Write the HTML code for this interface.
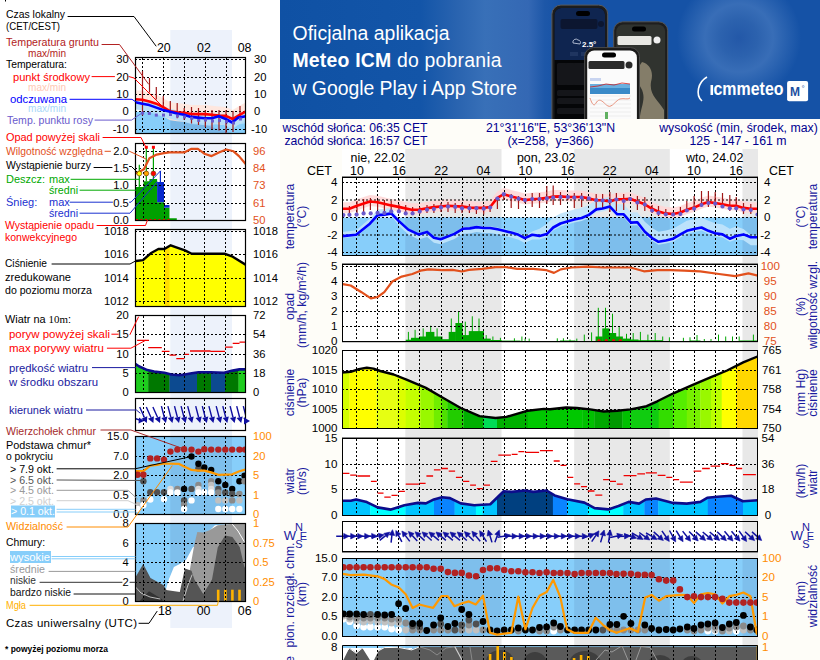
<!DOCTYPE html>
<html><head><meta charset="utf-8"><style>
html,body{margin:0;padding:0;background:#fefdf8;}
svg{display:block;font-family:"Liberation Sans", sans-serif;}
</style></head><body>
<svg width="820" height="660" viewBox="0 0 820 660">
<rect x="0" y="0" width="820" height="660" fill="#fefdf8" />
<rect x="0" y="0" width="280" height="660" fill="#ffffff" />
<line x1="5.5" y1="0" x2="5.5" y2="1.5" stroke="#000" stroke-width="1" />
<defs>
<linearGradient id="bn" gradientUnits="userSpaceOnUse" x1="280" y1="0" x2="820" y2="0">
 <stop offset="0" stop-color="#0f51a4"/>
 <stop offset="0.26" stop-color="#1355a8"/>
 <stop offset="0.33" stop-color="#2a64b0"/>
 <stop offset="0.38" stop-color="#3870b8"/>
 <stop offset="0.46" stop-color="#3468b4"/>
 <stop offset="0.49" stop-color="#1d57a8"/>
 <stop offset="0.52" stop-color="#1552a6"/>
 <stop offset="1" stop-color="#1552a6"/>
</linearGradient>
<radialGradient id="bspot" gradientUnits="userSpaceOnUse" cx="739" cy="38" r="62">
 <stop offset="0" stop-color="#2358a8" stop-opacity="1"/>
 <stop offset="0.3" stop-color="#2c62ae" stop-opacity="1"/>
 <stop offset="0.55" stop-color="#3a6fb8" stop-opacity="0.95"/>
 <stop offset="1" stop-color="#3a6fb8" stop-opacity="0"/>
</radialGradient>
</defs>
<rect x="280" y="0" width="540" height="119" fill="url(#bn)" />
<rect x="280" y="0" width="540" height="119" fill="url(#bspot)" />
<text x="292.5" y="40" font-size="19.4" fill="#fff" text-anchor="start" font-weight="normal" textLength="157" lengthAdjust="spacing">Oficjalna aplikacja</text>
<text x="292.5" y="67.4" font-size="19.4" fill="#fff" textLength="209" lengthAdjust="spacing"><tspan font-weight="bold">Meteo ICM</tspan> do pobrania</text>
<text x="292.5" y="94.9" font-size="19.4" fill="#fff" text-anchor="start" font-weight="normal" textLength="224.5" lengthAdjust="spacing">w Google Play i App Store</text>
<clipPath id="c_ban"><rect x="280" y="0" width="540" height="119"/></clipPath>
<g clip-path="url(#c_ban)">
<rect x="551.9" y="5.1" width="55.8" height="130" rx="9" fill="#1c1c1c" stroke="#5a5a5a" stroke-width="1"/>
<rect x="554.5" y="8" width="50.6" height="125" rx="7" fill="#050608"/>
<path d="M554.5,60V15a7,7 0 0 1 7,-7H598.1a7,7 0 0 1 7,7V60Z" fill="#0f2550"/>
<rect x="576" y="11" width="14" height="5" rx="2.5" fill="#000"/>
<rect x="560.5" y="19" width="37" height="10" rx="2" fill="#0c1630"/>
<circle cx="601" cy="24" r="3" fill="#0c1630"/>
<text x="582" y="47" font-size="8" fill="#fff" font-weight="bold">2.5°</text>
<path d="M573,43a3,3 0 0 1 5,-3a2.5,2.5 0 0 1 2,4z" fill="none" stroke="#cfd8ea" stroke-width="0.8"/>
<rect x="570" y="52" width="8" height="4" fill="#1f3560"/><rect x="581" y="52" width="8" height="4" fill="#1f3560"/>
<rect x="557" y="63" width="34" height="22" rx="1.5" fill="#15161a"/>
<rect x="557" y="90" width="34" height="6" rx="1.5" fill="#15161a"/>
<rect x="557" y="98" width="34" height="6" rx="1.5" fill="#15161a"/>
<rect x="557" y="108" width="34" height="6" rx="1.5" fill="#15161a"/>
<rect x="565" y="63" width="10" height="22" rx="1.5" fill="#15161a"/>
<rect x="613.7" y="21.8" width="54" height="120" rx="9" fill="#1e1e1e" stroke="#555" stroke-width="1"/>
<rect x="616.3" y="24.5" width="48.8" height="115" rx="7" fill="#30332f"/>
<path d="M642,62C650,64 654,72 651,82C649,95 658,100 664,110V125H640C638,110 648,100 641,88C636,80 637,68 642,62Z" fill="#9a9078" opacity="0.8"/>
<path d="M622,75C628,80 626,92 620,100" stroke="#6a6e68" stroke-width="2" fill="none"/>
<rect x="632" y="26.5" width="14" height="5" rx="2.5" fill="#000"/>
<rect x="617.5" y="36" width="34" height="9" rx="1.5" fill="#e8e8e4"/>
<circle cx="657" cy="40" r="3.5" fill="#f0f0f0"/>
<rect x="584.6" y="47.6" width="54.9" height="90" rx="9" fill="#1a1a1a" stroke="#4a4a4a" stroke-width="1"/>
<rect x="587.2" y="50.5" width="49.7" height="85" rx="7" fill="#fbfbfb"/>
<rect x="602" y="52.5" width="14" height="5" rx="2.5" fill="#000"/>
<rect x="588.5" y="61" width="36" height="8" rx="1.5" fill="#2a2a2a"/>
<circle cx="629" cy="65" r="3.5" fill="#2a2a2a"/>
<rect x="590" y="78" width="11" height="3" fill="#c8d4f0"/>
<rect x="590" y="84" width="40" height="10" fill="#3a8ac8"/>
<rect x="590" y="84" width="40" height="4" fill="#6ab0e0"/>
<path d="M590,87L598,86L606,84L614,85L622,83L630,84" stroke="#d02020" stroke-width="0.8" fill="none"/>
<path d="M590,98C592,104 594,107 596,103C600,96 604,104 608,106C612,108 616,100 620,99C624,98 628,100 630,98" stroke="#e06040" stroke-width="0.7" fill="none"/>
<path d="M590,96H631M590,100H631M590,104H631M590,108H631M590,112H631M590,116H631" stroke="#dcdcdc" stroke-width="0.4"/>
<rect x="605" y="112" width="3" height="7" fill="#60b060"/>
</g>
<path d="M707,77C698,82 695,95 702,101" stroke="#fff" stroke-width="1.6" fill="none"/>
<rect x="710.5" y="85" width="2.6" height="10" fill="#fff"/>
<text x="713.5" y="95.3" font-size="18" font-weight="bold" fill="#fff" textLength="70" lengthAdjust="spacingAndGlyphs">cmmeteo</text>
<rect x="787.1" y="81" width="21" height="20.2" rx="2" fill="#fff"/>
<text x="790" y="96" font-size="12" font-weight="bold" fill="#1d4fa0">M</text>
<text x="801.5" y="91" font-size="8" fill="#1d4fa0">°</text>
<text x="282.5" y="132" font-size="12.2" fill="#000090" text-anchor="start" font-weight="normal" >wschód słońca: 06:35 CET</text>
<text x="284.5" y="144.6" font-size="12.2" fill="#000090" text-anchor="start" font-weight="normal" >zachód słońca: 16:57 CET</text>
<text x="550.5" y="132" font-size="12.3" fill="#000090" text-anchor="middle" font-weight="normal" >21°31'16"E, 53°36'13"N</text>
<text x="550.5" y="144.6" font-size="12.3" fill="#000090" text-anchor="middle" font-weight="normal" >(x=258,&#160; y=366)</text>
<text x="738.5" y="132" font-size="12.3" fill="#000090" text-anchor="middle" font-weight="normal" >wysokość (min, środek, max)</text>
<text x="738" y="144.6" font-size="12.3" fill="#000090" text-anchor="middle" font-weight="normal" >125 - 147 - 161 m</text>
<rect x="342" y="149" width="416" height="511" fill="#ffffff" />
<rect x="405.3" y="149" width="96.19999999999999" height="511" fill="#e8e8e8" />
<rect x="574.2" y="149" width="95.59999999999991" height="511" fill="#e8e8e8" />
<rect x="742.5" y="149" width="15.5" height="511" fill="#e8e8e8" />
<defs>
<clipPath id="c_temp"><rect x="342" y="177" width="416" height="79"/></clipPath>
<clipPath id="c_prec"><rect x="342" y="264" width="416" height="78"/></clipPath>
<clipPath id="c_pres"><rect x="342" y="350" width="416" height="79"/></clipPath>
<clipPath id="c_wind"><rect x="342" y="438" width="416" height="78"/></clipPath>
<clipPath id="c_wdir"><rect x="342" y="521" width="416" height="31"/></clipPath>
<clipPath id="c_cbase"><rect x="342" y="558" width="416" height="79"/></clipPath>
<clipPath id="c_ccov"><rect x="342" y="645" width="416" height="76"/></clipPath>
</defs>
<rect x="342" y="177" width="416" height="79" fill="#fff" />
<rect x="405.3" y="177" width="96.19999999999999" height="79" fill="#e8e8e8" />
<rect x="574.2" y="177" width="95.59999999999991" height="79" fill="#e8e8e8" />
<rect x="742.5" y="177" width="15.5" height="79" fill="#e8e8e8" />
<g clip-path="url(#c_temp)">
<rect x="342" y="217.5" width="416" height="38.5" fill="#87cefa" />
<rect x="405.3" y="217.5" width="96.19999999999999" height="38.5" fill="#7dbeec" />
<rect x="574.2" y="217.5" width="95.59999999999991" height="38.5" fill="#7dbeec" />
<rect x="742.5" y="217.5" width="15.5" height="38.5" fill="#7dbeec" />
<polygon points="342.6,202.3 349.4,202.3 357.0,199.2 369.9,195.0 377.6,195.8 391.2,198.9 399.8,200.6 411.7,203.2 418.5,203.2 432.2,200.9 447.6,199.2 462.9,200.1 470.0,201.1 476.4,201.4 483.7,201.4 490.1,200.5 497.4,191.4 503.8,187.7 511.2,189.9 518.5,191.7 524.9,193.6 532.2,192.8 539.5,192.3 546.8,191.4 553.2,190.1 560.5,189.9 567.9,190.5 574.3,190.5 581.6,190.5 588.9,191.9 596.2,193.7 602.6,193.7 610.0,195.0 616.4,192.8 623.7,192.8 630.1,192.3 637.4,195.0 644.8,197.8 652.1,202.3 658.5,205.1 665.8,206.9 673.1,207.5 680.4,206.0 686.8,203.3 694.1,201.1 701.5,197.8 708.4,195.6 715.2,196.5 722.5,197.8 729.8,199.2 736.2,199.2 743.5,201.4 750.8,202.3 758.0,202.3 758.0,213.3 750.8,213.3 743.5,212.4 736.2,210.2 729.8,210.2 722.5,208.8 715.2,207.5 708.4,206.6 701.5,208.8 694.1,212.1 686.8,214.3 680.4,217.0 673.1,218.5 665.8,217.9 658.5,216.1 652.1,213.3 644.8,208.8 637.4,206.0 630.1,203.3 623.7,203.8 616.4,203.8 610.0,206.0 602.6,204.7 596.2,204.7 588.9,202.9 581.6,201.5 574.3,201.5 567.9,201.5 560.5,200.9 553.2,201.1 546.8,202.4 539.5,203.3 532.2,203.8 524.9,204.6 518.5,202.7 511.2,200.9 503.8,198.7 497.4,202.4 490.1,211.5 483.7,212.4 476.4,212.4 470.0,212.1 462.9,211.1 447.6,210.2 432.2,211.9 418.5,214.2 411.7,214.2 399.8,211.6 391.2,209.9 377.6,206.8 369.9,206.0 357.0,210.2 349.4,213.3 342.6,213.3" fill="#ffd6d6" opacity="0.85"/>
<polygon points="342.6,232.0 356.2,230.2 369.9,218.5 377.6,209.6 384.4,208.8 391.2,208.0 398.9,219.5 408.3,228.5 418.5,233.3 427.1,230.7 433.9,236.5 440.7,237.9 454.4,232.5 462.9,227.3 469.8,226.9 476.6,225.5 483.7,226.4 490.1,226.3 497.4,227.6 503.8,229.0 511.2,230.7 518.5,232.9 524.9,236.1 532.2,231.6 539.5,228.8 546.8,224.1 553.2,217.5 560.5,213.5 567.9,211.3 574.3,209.4 581.6,208.0 588.9,204.9 596.2,199.4 602.6,198.5 609.9,196.6 617.3,204.3 623.7,204.3 631.0,212.6 637.4,212.2 644.8,221.7 652.1,228.1 658.5,231.8 665.8,230.5 673.1,228.7 680.4,224.4 686.8,220.8 694.1,219.0 701.5,217.5 708.4,220.8 715.2,223.2 722.5,224.4 729.8,228.7 736.2,226.6 743.5,228.9 750.8,235.2 758.0,235.2 758.0,245.2 750.8,245.2 743.5,240.2 736.2,239.4 729.8,241.7 722.5,237.4 715.2,236.2 708.4,233.8 701.5,230.5 694.1,232.0 686.8,233.8 680.4,237.4 673.1,241.7 665.8,243.5 658.5,244.8 652.1,241.1 644.8,234.7 637.4,225.2 631.0,225.6 623.7,217.3 617.3,217.3 609.9,209.6 602.6,211.5 596.2,212.4 588.9,217.9 581.6,221.0 574.3,222.4 567.9,224.3 560.5,226.5 553.2,230.5 546.8,237.1 539.5,239.6 532.2,239.5 524.9,243.1 518.5,239.8 511.2,237.6 503.8,235.8 497.4,234.3 490.1,233.0 483.7,233.0 476.6,232.1 469.8,233.4 462.9,233.8 454.4,238.9 440.7,244.2 433.9,242.8 427.1,236.9 418.5,239.4 408.3,234.6 398.9,225.8 391.2,215.8 384.4,216.6 377.6,217.1 369.9,225.7 356.2,236.8 342.6,238.1" fill="#c0e4fb" opacity="0.92"/>
</g>
<path d="M342,182.5H757 M342,200H757 M342,217.5H757 M342,235H757 M342,252.5H757 M356.5,178V255 M377.5,178V255 M398.5,178V255 M419.5,178V255 M441.5,178V255 M462.5,178V255 M483.5,178V255 M504.5,178V255 M525.5,178V255 M546.5,178V255 M567.5,178V255 M588.5,178V255 M609.5,178V255 M630.5,178V255 M651.5,178V255 M673.5,178V255 M694.5,178V255 M715.5,178V255 M736.5,178V255" stroke="#000" stroke-width="1" stroke-dasharray="2,2" fill="none"/>
<g clip-path="url(#c_temp)">
<path d="M349.4,206V214 M357.0,201V214 M363.6,199V212 M370.4,198V210 M377.6,200V210 M384.4,200V211 M391.2,201V212 M398.9,204V213 M405.7,205V214 M412.6,207V214 M419.7,207V214 M427.0,205V213 M433.9,204V213 M441.0,203V212 M448.0,202V212 M455.2,203V213 M462.0,203V213 M469.4,204V213 M476.4,206V214 M483.7,205V214.5 M490.1,205V212 M497.4,197V209 M503.8,194V200 M511.2,194V208 M518.5,196V209 M524.9,198V203 M532.2,193V207 M539.5,193V208 M546.8,186V204 M553.2,185.5V205 M560.5,192V205 M567.9,196V200 M574.3,193V208 M581.6,193V207 M588.9,197V201 M596.2,194V211 M602.6,194V209 M609.9,192V212 M616.4,193V211 M623.7,194V210 M630.1,197V201 M637.4,196V210 M644.8,197V211 M652.1,205V213 M658.5,206V216 M665.8,209V216 M673.1,212V216 M680.4,207V216 M686.8,201V212 M694.1,196V210 M701.5,191V207 M708.4,191V207 M715.2,192V206 M722.5,193V208 M729.8,195V211 M736.2,197V210 M743.5,203V214 M750.8,204V214" stroke="#a01818" stroke-width="1.2" fill="none"/>
<polyline points="342.6,208.8 349.4,208.8 357.0,205.7 369.9,201.5 377.6,202.3 391.2,205.4 399.8,207.1 411.7,209.7 418.5,209.7 432.2,207.4 447.6,205.7 462.9,206.6 470.0,207.6 476.4,207.9 483.7,207.9 490.1,207.0 497.4,197.9 503.8,194.2 511.2,196.4 518.5,198.2 524.9,200.1 532.2,199.3 539.5,198.8 546.8,197.9 553.2,196.6 560.5,196.4 567.9,197.0 574.3,197.0 581.6,197.0 588.9,198.4 596.2,200.2 602.6,200.2 610.0,201.5 616.4,199.3 623.7,199.3 630.1,198.8 637.4,201.5 644.8,204.3 652.1,208.8 658.5,211.6 665.8,213.4 673.1,214.0 680.4,212.5 686.8,209.8 694.1,207.6 701.5,204.3 708.4,202.1 715.2,203.0 722.5,204.3 729.8,205.7 736.2,205.7 743.5,207.9 750.8,208.8 758.0,208.8" fill="none" stroke="#ff0000" stroke-width="2.6" stroke-linejoin="round" stroke-linecap="round" />
<polyline points="342.6,236.1 356.2,234.8 369.9,223.7 377.6,215.1 384.4,214.6 391.2,213.4 398.9,221.1 408.3,229.6 418.5,234.4 427.1,231.9 433.9,237.8 440.7,239.2 454.4,233.9 462.9,228.8 469.8,228.4 476.6,227.1 483.7,228.0 490.1,228.0 497.4,229.3 503.8,230.8 511.2,232.6 518.5,234.8 524.9,238.1 532.2,234.8 539.5,235.9 546.8,234.1 553.2,227.5 560.5,223.5 567.9,221.3 574.3,219.4 581.6,218.0 588.9,214.9 596.2,209.4 602.6,208.5 609.9,206.6 617.3,214.3 623.7,214.3 631.0,222.6 637.4,222.2 644.8,231.7 652.1,238.1 658.5,241.8 665.8,240.5 673.1,238.7 680.4,234.4 686.8,230.8 694.1,229.0 701.5,227.5 708.4,230.8 715.2,233.2 722.5,234.4 729.8,238.7 736.2,236.0 743.5,234.4 750.8,237.2 758.0,237.2" fill="none" stroke="#0000ff" stroke-width="2.6" stroke-linejoin="round" stroke-linecap="round" />
<g fill="#6a5acd"><circle cx="343.4" cy="215.1" r="2.1"/><circle cx="349.4" cy="214.8" r="2.1"/><circle cx="356.6" cy="214.6" r="2.1"/><circle cx="363.6" cy="213.4" r="2.1"/><circle cx="370.7" cy="213.4" r="2.1"/><circle cx="377.6" cy="212.9" r="2.1"/><circle cx="384.4" cy="212.9" r="2.1"/><circle cx="391.2" cy="211.4" r="2.1"/><circle cx="398.9" cy="211.4" r="2.1"/><circle cx="405.7" cy="213.4" r="2.1"/><circle cx="412.6" cy="213.4" r="2.1"/><circle cx="419.7" cy="211.4" r="2.1"/><circle cx="427" cy="209.7" r="2.1"/><circle cx="433.9" cy="209.1" r="2.1"/><circle cx="441" cy="207.4" r="2.1"/><circle cx="448" cy="206.6" r="2.1"/><circle cx="455.2" cy="206.9" r="2.1"/><circle cx="462" cy="208.3" r="2.1"/><circle cx="469.4" cy="208.3" r="2.1"/><circle cx="476.4" cy="208.2" r="2.1"/><circle cx="483.7" cy="208.7" r="2.1"/><circle cx="490.1" cy="207.5" r="2.1"/><circle cx="497.4" cy="198.5" r="2.1"/><circle cx="503.8" cy="194.2" r="2.1"/><circle cx="511.2" cy="196.6" r="2.1"/><circle cx="518.5" cy="198.7" r="2.1"/><circle cx="524.9" cy="200.1" r="2.1"/><circle cx="532.2" cy="199" r="2.1"/><circle cx="539.5" cy="199" r="2.1"/><circle cx="546.8" cy="198.4" r="2.1"/><circle cx="553.2" cy="197.5" r="2.1"/><circle cx="560.5" cy="197" r="2.1"/><circle cx="567.9" cy="197" r="2.1"/><circle cx="574.3" cy="197.5" r="2.1"/><circle cx="581.6" cy="197.5" r="2.1"/><circle cx="588.9" cy="198.4" r="2.1"/><circle cx="596.2" cy="200.2" r="2.1"/><circle cx="602.6" cy="200.5" r="2.1"/><circle cx="609.9" cy="201.2" r="2.1"/><circle cx="616.4" cy="199.5" r="2.1"/><circle cx="623.7" cy="201" r="2.1"/><circle cx="630.1" cy="199" r="2.1"/><circle cx="637.4" cy="202.5" r="2.1"/><circle cx="644.8" cy="204.5" r="2.1"/><circle cx="652.1" cy="210.5" r="2.1"/><circle cx="658.5" cy="213" r="2.1"/><circle cx="665.8" cy="214.3" r="2.1"/><circle cx="673.1" cy="214.5" r="2.1"/><circle cx="680.4" cy="214" r="2.1"/><circle cx="686.8" cy="210.5" r="2.1"/><circle cx="694.1" cy="208.6" r="2.1"/><circle cx="701.5" cy="205" r="2.1"/><circle cx="708.4" cy="203" r="2.1"/><circle cx="715.2" cy="203.6" r="2.1"/><circle cx="722.5" cy="206.5" r="2.1"/><circle cx="729.8" cy="208.3" r="2.1"/><circle cx="736.2" cy="208.3" r="2.1"/><circle cx="743.5" cy="209.5" r="2.1"/><circle cx="750.8" cy="210" r="2.1"/><circle cx="757.5" cy="214.5" r="2.1"/></g>
</g>
<line x1="342" y1="176.5" x2="758" y2="176.5" stroke="#888" stroke-width="1" />
<rect x="342.5" y="177.5" width="415" height="78" fill="none" stroke="#000" stroke-width="1"/>
<text x="377.8" y="162.3" font-size="12.4" fill="#000" text-anchor="middle" font-weight="normal" >nie, 22.02</text>
<text x="546.2" y="162.3" font-size="12.4" fill="#000" text-anchor="middle" font-weight="normal" >pon, 23.02</text>
<text x="714.7" y="162.3" font-size="12.4" fill="#000" text-anchor="middle" font-weight="normal" >wto, 24.02</text>
<text x="357.0" y="174.6" font-size="12.4" fill="#000" text-anchor="middle" font-weight="normal" >10</text>
<text x="399.1" y="174.6" font-size="12.4" fill="#000" text-anchor="middle" font-weight="normal" >16</text>
<text x="441.2" y="174.6" font-size="12.4" fill="#000" text-anchor="middle" font-weight="normal" >22</text>
<text x="483.4" y="174.6" font-size="12.4" fill="#000" text-anchor="middle" font-weight="normal" >04</text>
<text x="525.5" y="174.6" font-size="12.4" fill="#000" text-anchor="middle" font-weight="normal" >10</text>
<text x="567.6" y="174.6" font-size="12.4" fill="#000" text-anchor="middle" font-weight="normal" >16</text>
<text x="609.7" y="174.6" font-size="12.4" fill="#000" text-anchor="middle" font-weight="normal" >22</text>
<text x="651.8" y="174.6" font-size="12.4" fill="#000" text-anchor="middle" font-weight="normal" >04</text>
<text x="694.0" y="174.6" font-size="12.4" fill="#000" text-anchor="middle" font-weight="normal" >10</text>
<text x="736.1" y="174.6" font-size="12.4" fill="#000" text-anchor="middle" font-weight="normal" >16</text>
<text x="319.5" y="174.6" font-size="12.4" fill="#000" text-anchor="middle" font-weight="normal" >CET</text>
<text x="781.5" y="174.6" font-size="12.4" fill="#000" text-anchor="middle" font-weight="normal" >CET</text>
<text x="337.5" y="186.1" font-size="11.6" fill="#000" text-anchor="end" font-weight="normal" >4</text>
<text x="770.5" y="186.1" font-size="11.6" fill="#000" text-anchor="end" font-weight="normal" >4</text>
<text x="337.5" y="203.6" font-size="11.6" fill="#000" text-anchor="end" font-weight="normal" >2</text>
<text x="770.5" y="203.6" font-size="11.6" fill="#000" text-anchor="end" font-weight="normal" >2</text>
<text x="337.5" y="221.1" font-size="11.6" fill="#000" text-anchor="end" font-weight="normal" >0</text>
<text x="770.5" y="221.1" font-size="11.6" fill="#000" text-anchor="end" font-weight="normal" >0</text>
<text x="337.5" y="238.6" font-size="11.6" fill="#000" text-anchor="end" font-weight="normal" >-2</text>
<text x="770.5" y="238.6" font-size="11.6" fill="#000" text-anchor="end" font-weight="normal" >-2</text>
<text x="337.5" y="256.1" font-size="11.6" fill="#000" text-anchor="end" font-weight="normal" >-4</text>
<text x="770.5" y="256.1" font-size="11.6" fill="#000" text-anchor="end" font-weight="normal" >-4</text>
<text x="337.5" y="270.1" font-size="11.6" fill="#000" text-anchor="end" font-weight="normal" >5</text>
<text x="770.3" y="270.1" font-size="11.6" fill="#e2501a" text-anchor="middle" font-weight="normal" >100</text>
<text x="337.5" y="285.1" font-size="11.6" fill="#000" text-anchor="end" font-weight="normal" >4</text>
<text x="770.3" y="285.1" font-size="11.6" fill="#e2501a" text-anchor="middle" font-weight="normal" >95</text>
<text x="337.5" y="300.1" font-size="11.6" fill="#000" text-anchor="end" font-weight="normal" >3</text>
<text x="770.3" y="300.1" font-size="11.6" fill="#e2501a" text-anchor="middle" font-weight="normal" >90</text>
<text x="337.5" y="315.1" font-size="11.6" fill="#000" text-anchor="end" font-weight="normal" >2</text>
<text x="770.3" y="315.1" font-size="11.6" fill="#e2501a" text-anchor="middle" font-weight="normal" >85</text>
<text x="337.5" y="330.1" font-size="11.6" fill="#000" text-anchor="end" font-weight="normal" >1</text>
<text x="770.3" y="330.1" font-size="11.6" fill="#e2501a" text-anchor="middle" font-weight="normal" >80</text>
<text x="337.5" y="345.1" font-size="11.6" fill="#000" text-anchor="end" font-weight="normal" >0</text>
<text x="770.3" y="345.1" font-size="11.6" fill="#e2501a" text-anchor="middle" font-weight="normal" >75</text>
<text x="337.5" y="354.1" font-size="11.6" fill="#000" text-anchor="end" font-weight="normal" >1020</text>
<text x="762" y="354.1" font-size="11.6" fill="#000" text-anchor="start" font-weight="normal" >765</text>
<text x="337.5" y="374.1" font-size="11.6" fill="#000" text-anchor="end" font-weight="normal" >1015</text>
<text x="762" y="374.1" font-size="11.6" fill="#000" text-anchor="start" font-weight="normal" >761</text>
<text x="337.5" y="393.1" font-size="11.6" fill="#000" text-anchor="end" font-weight="normal" >1010</text>
<text x="762" y="393.1" font-size="11.6" fill="#000" text-anchor="start" font-weight="normal" >758</text>
<text x="337.5" y="413.1" font-size="11.6" fill="#000" text-anchor="end" font-weight="normal" >1005</text>
<text x="762" y="413.1" font-size="11.6" fill="#000" text-anchor="start" font-weight="normal" >754</text>
<text x="337.5" y="432.1" font-size="11.6" fill="#000" text-anchor="end" font-weight="normal" >1000</text>
<text x="762" y="432.1" font-size="11.6" fill="#000" text-anchor="start" font-weight="normal" >750</text>
<text x="337.5" y="442.1" font-size="11.6" fill="#000" text-anchor="end" font-weight="normal" >15</text>
<text x="768" y="442.1" font-size="11.6" fill="#000" text-anchor="middle" font-weight="normal" >54</text>
<text x="337.5" y="468.1" font-size="11.6" fill="#000" text-anchor="end" font-weight="normal" >10</text>
<text x="768" y="468.1" font-size="11.6" fill="#000" text-anchor="middle" font-weight="normal" >36</text>
<text x="337.5" y="493.1" font-size="11.6" fill="#000" text-anchor="end" font-weight="normal" >5</text>
<text x="768" y="493.1" font-size="11.6" fill="#000" text-anchor="middle" font-weight="normal" >18</text>
<text x="337.5" y="519.1" font-size="11.6" fill="#000" text-anchor="end" font-weight="normal" >0</text>
<text x="768" y="519.1" font-size="11.6" fill="#000" text-anchor="middle" font-weight="normal" >0</text>
<text x="337.5" y="562.1" font-size="11.6" fill="#000" text-anchor="end" font-weight="normal" >15.0</text>
<text x="762" y="562.1" font-size="11.6" fill="#ff8c00" text-anchor="start" font-weight="normal" >100</text>
<text x="337.5" y="581.1" font-size="11.6" fill="#000" text-anchor="end" font-weight="normal" >7.0</text>
<text x="762" y="581.1" font-size="11.6" fill="#ff8c00" text-anchor="start" font-weight="normal" >20</text>
<text x="337.5" y="601.1" font-size="11.6" fill="#000" text-anchor="end" font-weight="normal" >2.0</text>
<text x="762" y="601.1" font-size="11.6" fill="#ff8c00" text-anchor="start" font-weight="normal" >5</text>
<text x="337.5" y="620.1" font-size="11.6" fill="#000" text-anchor="end" font-weight="normal" >0.5</text>
<text x="762" y="620.1" font-size="11.6" fill="#ff8c00" text-anchor="start" font-weight="normal" >1</text>
<text x="337.5" y="640.1" font-size="11.6" fill="#000" text-anchor="end" font-weight="normal" >0.0</text>
<text x="762" y="640.1" font-size="11.6" fill="#ff8c00" text-anchor="start" font-weight="normal" >0</text>
<text x="337.5" y="650.6" font-size="11.6" fill="#000" text-anchor="end" font-weight="normal" >8</text>
<text x="762" y="650.6" font-size="11.6" fill="#ff8c00" text-anchor="start" font-weight="normal" >1</text>
<text x="0" y="0" font-size="12.2" fill="#1a1aa0" text-anchor="middle" transform="translate(293.5,216.5) rotate(-90)">temperatura</text>
<text x="0" y="0" font-size="12.2" fill="#1a1aa0" text-anchor="middle" transform="translate(305.5,216.5) rotate(-90)">(°C)</text>
<text x="0" y="0" font-size="12.2" fill="#1a1aa0" text-anchor="middle" transform="translate(293.5,306.5) rotate(-90)">opad</text>
<text x="0" y="0" font-size="12.2" fill="#1a1aa0" text-anchor="middle" transform="translate(305.5,305) rotate(-90)">(mm/h, kg/m²/h)</text>
<text x="0" y="0" font-size="12.2" fill="#1a1aa0" text-anchor="middle" transform="translate(293.5,392.5) rotate(-90)">ciśnienie</text>
<text x="0" y="0" font-size="12.2" fill="#1a1aa0" text-anchor="middle" transform="translate(305.5,392.5) rotate(-90)">(hPa)</text>
<text x="0" y="0" font-size="12.2" fill="#1a1aa0" text-anchor="middle" transform="translate(293.5,481) rotate(-90)">wiatr</text>
<text x="0" y="0" font-size="12.2" fill="#1a1aa0" text-anchor="middle" transform="translate(305.5,481) rotate(-90)">(m/s)</text>
<text x="0" y="0" font-size="12.2" fill="#1a1aa0" text-anchor="middle" transform="translate(293.5,595) rotate(-90)">pion. rozciągł. chm.</text>
<text x="0" y="0" font-size="12.2" fill="#1a1aa0" text-anchor="middle" transform="translate(305.5,594) rotate(-90)">(km)</text>
<text x="0" y="0" font-size="12.2" fill="#1a1aa0" text-anchor="middle" transform="translate(293.5,694) rotate(-90)">zachmurzenie</text>
<text x="0" y="0" font-size="12.2" fill="#1a1aa0" text-anchor="middle" transform="translate(804.5,216.5) rotate(-90)">(°C)</text>
<text x="0" y="0" font-size="12.2" fill="#1a1aa0" text-anchor="middle" transform="translate(816.5,216.5) rotate(-90)">temperatura</text>
<text x="0" y="0" font-size="12.2" fill="#1a1aa0" text-anchor="middle" transform="translate(804.5,306.5) rotate(-90)">(%)</text>
<text x="0" y="0" font-size="12.2" fill="#1a1aa0" text-anchor="middle" transform="translate(816.5,305) rotate(-90)">wilgotność wzgl.</text>
<text x="0" y="0" font-size="12.2" fill="#1a1aa0" text-anchor="middle" transform="translate(804.5,392.5) rotate(-90)">(mm Hg)</text>
<text x="0" y="0" font-size="12.2" fill="#1a1aa0" text-anchor="middle" transform="translate(816.5,393) rotate(-90)">ciśnienie</text>
<text x="0" y="0" font-size="12.2" fill="#1a1aa0" text-anchor="middle" transform="translate(804.5,481) rotate(-90)">(km/h)</text>
<text x="0" y="0" font-size="12.2" fill="#1a1aa0" text-anchor="middle" transform="translate(816.5,482.5) rotate(-90)">wiatr</text>
<text x="0" y="0" font-size="12.2" fill="#1a1aa0" text-anchor="middle" transform="translate(804.5,593) rotate(-90)">(km)</text>
<text x="0" y="0" font-size="12.2" fill="#1a1aa0" text-anchor="middle" transform="translate(816.5,596) rotate(-90)">widzialność</text>
<text x="290" y="539.5" font-size="13" fill="#1a1aa0" text-anchor="middle" font-weight="normal" >W</text>
<text x="299" y="531" font-size="11" fill="#1a1aa0" text-anchor="middle" font-weight="normal" >N</text>
<text x="303.5" y="539.5" font-size="11" fill="#1a1aa0" text-anchor="middle" font-weight="normal" >E</text>
<text x="299" y="547.5" font-size="11" fill="#1a1aa0" text-anchor="middle" font-weight="normal" >S</text>
<text x="797" y="539.5" font-size="13" fill="#1a1aa0" text-anchor="middle" font-weight="normal" >W</text>
<text x="806" y="531" font-size="11" fill="#1a1aa0" text-anchor="middle" font-weight="normal" >N</text>
<text x="810.5" y="539.5" font-size="11" fill="#1a1aa0" text-anchor="middle" font-weight="normal" >E</text>
<text x="806" y="547.5" font-size="11" fill="#1a1aa0" text-anchor="middle" font-weight="normal" >S</text>
<rect x="342" y="264" width="416" height="78" fill="#fff" />
<rect x="405.3" y="264" width="96.19999999999999" height="78" fill="#e8e8e8" />
<rect x="574.2" y="264" width="95.59999999999991" height="78" fill="#e8e8e8" />
<rect x="742.5" y="264" width="15.5" height="78" fill="#e8e8e8" />
<g clip-path="url(#c_prec)">
<rect x="405.7" y="339.7" width="5.800000000000011" height="1.3000000000000114" fill="#00a800" />
<rect x="411" y="337.8" width="8.5" height="3.1999999999999886" fill="#00a800" />
<rect x="419" y="336.5" width="7.399999999999977" height="4.5" fill="#00a800" />
<rect x="425.9" y="331.9" width="8.5" height="9.100000000000023" fill="#00a800" />
<rect x="433.9" y="336.5" width="8.600000000000023" height="4.5" fill="#00a800" />
<rect x="442" y="339.2" width="7.199999999999989" height="1.8000000000000114" fill="#00a800" />
<rect x="448.7" y="331.9" width="7.199999999999989" height="9.100000000000023" fill="#00a800" />
<rect x="455.4" y="323" width="7.2000000000000455" height="18" fill="#00a800" />
<rect x="462.1" y="335.1" width="7.199999999999989" height="5.899999999999977" fill="#00a800" />
<rect x="468.8" y="331.1" width="15.199999999999989" height="9.899999999999977" fill="#00a800" />
<rect x="483.5" y="338.6" width="7.300000000000011" height="2.3999999999999773" fill="#00a800" />
<rect x="490.3" y="340" width="11.199999999999989" height="1" fill="#00a800" />
<rect x="595.6" y="336.5" width="7.199999999999932" height="4.5" fill="#00a800" />
<rect x="602.3" y="328.4" width="7.2000000000000455" height="12.600000000000023" fill="#00a800" />
<rect x="609" y="333" width="7.2000000000000455" height="8" fill="#00a800" />
<rect x="615.7" y="336.5" width="7.199999999999932" height="4.5" fill="#00a800" />
<rect x="622.4" y="338.6" width="8.600000000000023" height="2.3999999999999773" fill="#00a800" />
<rect x="630.5" y="339.5" width="8.0" height="1.5" fill="#00a800" />
<rect x="638" y="340.2" width="24.5" height="0.8000000000000114" fill="#00a800" />
<rect x="500" y="340.6" width="20.5" height="0.39999999999997726" fill="#00a800" />
<rect x="560" y="340.5" width="15.5" height="0.5" fill="#00a800" />
<rect x="690" y="340.5" width="10.5" height="0.5" fill="#00a800" />
<rect x="740" y="340.5" width="17.5" height="0.5" fill="#00a800" />
<path d="M408.4,331.9V341 M415.1,329.8V341 M423.2,328.4V341 M430.7,325.7V341 M437.1,328.4V341 M451.3,318.5V341 M458.6,311.5V341 M465.3,321.7V341 M472.3,316.3V341 M479.0,318.5V341 M486.2,335.1V341 M492.9,336.5V341 M500.4,337.8V341 M514.4,338.3V341 M521.9,336.5V341 M525.1,338.6V341 M529.2,338.6V341 M557.3,338.3V341 M563.4,338.3V341 M570.0,339.5V341 M576.8,338.6V341 M584.3,334.6V341 M591.6,332.4V341 M598.3,307.8V341 M605.5,307.8V341 M612.5,313.7V341 M619.2,327.1V341 M626.5,333.8V341 M633.2,333V341 M640.4,331.9V341 M647.9,334.6V341 M655.2,333V341 M662.7,336.5V341 M669.4,337.3V341 M683.4,337.8V341 M690.0,337.3V341 M697.0,335V341 M704.3,339V341 M711.0,339V341 M718.5,334.6V341 M725.7,336.5V341 M732.5,336.5V341 M739.2,336.5V341 M753.4,334.6V341" stroke="#00a800" stroke-width="1" fill="none"/>
</g>
<path d="M342,266.5H757 M342,281.5H757 M342,296.5H757 M342,311.5H757 M342,326.5H757 M356.5,265V341 M377.5,265V341 M398.5,265V341 M419.5,265V341 M441.5,265V341 M462.5,265V341 M483.5,265V341 M504.5,265V341 M525.5,265V341 M546.5,265V341 M567.5,265V341 M588.5,265V341 M609.5,265V341 M630.5,265V341 M651.5,265V341 M673.5,265V341 M694.5,265V341 M715.5,265V341 M736.5,265V341" stroke="#000" stroke-width="1" stroke-dasharray="2,2" fill="none"/>
<g clip-path="url(#c_prec)">
<polyline points="342.7,284.1 350.7,285.5 361.5,292.2 370.9,298.4 377.6,297.0 384.3,292.2 392.3,281.5 401.7,276.6 412.4,274.0 420.5,270.7 428.5,269.4 442.0,270.2 452.7,269.9 462.1,271.5 468.8,269.9 482.2,268.9 495.6,267.2 506.4,267.2 517.1,268.9 533.2,268.9 546.6,270.2 554.0,272.9 560.7,269.4 571.5,267.5 587.6,266.7 603.7,267.5 630.5,267.5 643.9,271.3 657.3,270.2 670.7,270.2 684.1,270.7 700.2,271.3 719.0,274.0 735.1,276.1 748.5,273.4 758.0,275.6" fill="none" stroke="#e2501c" stroke-width="2.2" stroke-linejoin="round" stroke-linecap="round" />
<g fill="#dd1111"><circle cx="599" cy="340.5" r="1.6"/><circle cx="606.3" cy="340.5" r="1.6"/><circle cx="613.6" cy="340.5" r="1.6"/><circle cx="620.3" cy="340.5" r="1.6"/></g>
</g>
<line x1="342" y1="263.5" x2="758" y2="263.5" stroke="#888" stroke-width="1" />
<rect x="342.5" y="264.5" width="415" height="77" fill="none" stroke="#000" stroke-width="1"/>
<line x1="342" y1="342.5" x2="758" y2="342.5" stroke="#c8c8c8" stroke-width="1" />
<rect x="342" y="350" width="416" height="79" fill="#fff" />
<rect x="405.3" y="350" width="96.19999999999999" height="79" fill="#e8e8e8" />
<rect x="574.2" y="350" width="95.59999999999991" height="79" fill="#e8e8e8" />
<rect x="742.5" y="350" width="15.5" height="79" fill="#e8e8e8" />
<g clip-path="url(#c_pres)">
<clipPath id="c_pfill"><polygon points="341,372.6 350.7,371.8 358.8,369.1 366.8,367.8 373.5,368.6 380.2,371 393.7,374.5 407.1,379.9 425.9,387.9 442,397.3 460.7,408 479.5,416.1 495.6,418 506.4,416.9 527.8,410.7 543.9,408.9 550,409.2 566.1,407.5 576.8,408 590.2,409.4 603.7,411.5 617.1,410.7 630.5,409.4 646.6,406.2 657.3,401.3 673.4,393.3 692.2,385.2 711,377.2 727.1,370.5 743.2,362.4 758,356.3 758,429 341,429"/></clipPath>
<g clip-path="url(#c_pfill)">
<rect x="342" y="350" width="7.699999999999977" height="79" fill="#d4ff00" />
<rect x="349.4" y="350" width="27.100000000000012" height="79" fill="#ffff00" />
<rect x="376.2" y="350" width="20.400000000000023" height="79" fill="#e6ff12" />
<rect x="396.3" y="350" width="9.699999999999978" height="79" fill="#dcff00" />
<rect x="405.7" y="350" width="15.100000000000012" height="79" fill="#c4ff00" />
<rect x="420.5" y="350" width="13.699999999999978" height="79" fill="#99f800" />
<rect x="433.9" y="350" width="8.400000000000023" height="79" fill="#70ee00" />
<rect x="442" y="350" width="5.600000000000011" height="79" fill="#4ee000" />
<rect x="447.3" y="350" width="16.399999999999967" height="79" fill="#22cc00" />
<rect x="463.4" y="350" width="20.400000000000023" height="79" fill="#00b000" />
<rect x="483.5" y="350" width="13.8" height="79" fill="#00dd55" />
<rect x="497" y="350" width="31.099999999999955" height="79" fill="#00b000" />
<rect x="527.8" y="350" width="54.70000000000009" height="79" fill="#00c800" />
<rect x="582.2" y="350" width="12.39999999999991" height="79" fill="#00c000" />
<rect x="594.3" y="350" width="14.000000000000046" height="79" fill="#00a800" />
<rect x="608" y="350" width="14.699999999999978" height="79" fill="#009800" />
<rect x="622.4" y="350" width="8.400000000000023" height="79" fill="#00c000" />
<rect x="630.5" y="350" width="28.500000000000046" height="79" fill="#10cc10" />
<rect x="658.7" y="350" width="14.999999999999932" height="79" fill="#33dd00" />
<rect x="673.4" y="350" width="13.699999999999978" height="79" fill="#55ee00" />
<rect x="686.8" y="350" width="13.700000000000092" height="79" fill="#77f000" />
<rect x="700.2" y="350" width="11.099999999999955" height="79" fill="#99f800" />
<rect x="711" y="350" width="11.000000000000046" height="79" fill="#bbff00" />
<rect x="721.7" y="350" width="15.099999999999955" height="79" fill="#ffff00" />
<rect x="736.5" y="350" width="21.8" height="79" fill="#ffd700" />
</g>
</g>
<path d="M342,370.5H757 M342,389.5H757 M342,409.5H757 M356.5,351V428 M377.5,351V428 M398.5,351V428 M419.5,351V428 M441.5,351V428 M462.5,351V428 M483.5,351V428 M504.5,351V428 M525.5,351V428 M546.5,351V428 M567.5,351V428 M588.5,351V428 M609.5,351V428 M630.5,351V428 M651.5,351V428 M673.5,351V428 M694.5,351V428 M715.5,351V428 M736.5,351V428" stroke="#000" stroke-width="1" stroke-dasharray="2,2" fill="none"/>
<g clip-path="url(#c_pres)">
<polyline points="341.0,372.6 350.7,371.8 358.8,369.1 366.8,367.8 373.5,368.6 380.2,371.0 393.7,374.5 407.1,379.9 425.9,387.9 442.0,397.3 460.7,408.0 479.5,416.1 495.6,418.0 506.4,416.9 527.8,410.7 543.9,408.9 550.0,409.2 566.1,407.5 576.8,408.0 590.2,409.4 603.7,411.5 617.1,410.7 630.5,409.4 646.6,406.2 657.3,401.3 673.4,393.3 692.2,385.2 711.0,377.2 727.1,370.5 743.2,362.4 758.0,356.3" fill="none" stroke="#000" stroke-width="2.4" stroke-linejoin="round" stroke-linecap="round" />
</g>
<rect x="342.5" y="350.5" width="415" height="78" fill="none" stroke="#000" stroke-width="1"/>
<rect x="342" y="438" width="416" height="78" fill="#fff" />
<rect x="405.3" y="438" width="96.19999999999999" height="78" fill="#e8e8e8" />
<rect x="574.2" y="438" width="95.59999999999991" height="78" fill="#e8e8e8" />
<rect x="742.5" y="438" width="15.5" height="78" fill="#e8e8e8" />
<g clip-path="url(#c_wind)">
<clipPath id="c_wfill"><polygon points="341,500.7 350.7,500.7 356.1,499.4 366.8,502.1 377.6,507.4 391,509.6 404.4,505.3 417.8,502.9 425.9,503.4 433.9,499.4 442,497.2 450,498.1 460.7,503.4 474.2,505.3 490.3,504.2 503.7,491.3 511.7,491.9 525.1,490.5 533.2,491.9 546.6,490.5 554.6,495.4 567.3,499.2 584.4,502.6 594.6,508.1 608.3,509.4 618.5,506 628.7,501.9 639,503.6 645.8,499.5 656,498.5 673.1,502.9 686.8,503.6 700.4,501.9 707.2,497.8 717.5,496.8 731.1,495.8 743,501.2 758,500.2 758,516 341,516"/></clipPath>
<g clip-path="url(#c_wfill)">
<rect x="342" y="438" width="28.49999999999999" height="78" fill="#00c4ff" />
<rect x="370.2" y="438" width="35.499999999999986" height="78" fill="#00ffff" />
<rect x="405.4" y="438" width="28.900000000000023" height="78" fill="#00c4ff" />
<rect x="434" y="438" width="20.900000000000023" height="78" fill="#0a84ff" />
<rect x="454.6" y="438" width="21.599999999999955" height="78" fill="#00c4ff" />
<rect x="475.9" y="438" width="6.900000000000023" height="78" fill="#00ffff" />
<rect x="482.5" y="438" width="14.8" height="78" fill="#00c4ff" />
<rect x="497" y="438" width="56.199999999999974" height="78" fill="#004080" />
<rect x="552.9" y="438" width="14.699999999999978" height="78" fill="#0a84ff" />
<rect x="567.3" y="438" width="20.8" height="78" fill="#00c4ff" />
<rect x="587.8" y="438" width="35.70000000000009" height="78" fill="#00ffff" />
<rect x="623.2" y="438" width="21.499999999999932" height="78" fill="#00c4ff" />
<rect x="644.4" y="438" width="14.199999999999978" height="78" fill="#0a84ff" />
<rect x="658.3" y="438" width="49.8" height="78" fill="#00c4ff" />
<rect x="707.8" y="438" width="35.50000000000004" height="78" fill="#0a84ff" />
<rect x="743" y="438" width="15.3" height="78" fill="#00c4ff" />
</g>
</g>
<path d="M342,464.5H757 M342,489.5H757 M356.5,439V515 M377.5,439V515 M398.5,439V515 M419.5,439V515 M441.5,439V515 M462.5,439V515 M483.5,439V515 M504.5,439V515 M525.5,439V515 M546.5,439V515 M567.5,439V515 M588.5,439V515 M609.5,439V515 M630.5,439V515 M651.5,439V515 M673.5,439V515 M694.5,439V515 M715.5,439V515 M736.5,439V515" stroke="#000" stroke-width="1" stroke-dasharray="2,2" fill="none"/>
<g clip-path="url(#c_wind)">
<polyline points="341.0,500.7 350.7,500.7 356.1,499.4 366.8,502.1 377.6,507.4 391.0,509.6 404.4,505.3 417.8,502.9 425.9,503.4 433.9,499.4 442.0,497.2 450.0,498.1 460.7,503.4 474.2,505.3 490.3,504.2 503.7,491.3 511.7,491.9 525.1,490.5 533.2,491.9 546.6,490.5 554.6,495.4 567.3,499.2 584.4,502.6 594.6,508.1 608.3,509.4 618.5,506.0 628.7,501.9 639.0,503.6 645.8,499.5 656.0,498.5 673.1,502.9 686.8,503.6 700.4,501.9 707.2,497.8 717.5,496.8 731.1,495.8 743.0,501.2 758.0,500.2" fill="none" stroke="#0c0c8c" stroke-width="2.6" stroke-linejoin="round" stroke-linecap="round" />
<path d="M342.7,473.4H349.4 M350.2,475.2H356.6 M357.4,476.0H370.1 M370.9,481.4H376.8 M377.6,493.2H383.5 M384.3,497.2H390.7 M391.5,495.4H397.7 M398.5,491.3H404.9 M405.7,484.1H418.9 M419.7,483.3H425.6 M426.4,476.0H433.1 M433.9,469.9H440.6 M441.4,468.5H447.9 M448.7,471.2H455.1 M455.9,477.4H462.1 M462.9,481.4H469.3 M470.1,485.2H476.0 M476.8,488.7H482.7 M483.5,485.2H490.0 M490.8,461.3H497.5 M498.3,455.1H510.9 M511.7,454.3H517.6 M518.4,451.6H524.3 M525.1,452.4H539.1 M539.9,450.6H552.9 M553.7,461.0H559.7 M560.5,465.4H566.5 M567.3,477.3H573.3 M574.1,483.8H580.2 M581.0,486.6H587.0 M587.8,491.0H594.5 M595.3,495.1H602.3 M603.1,479.7H609.2 M610.0,481.4H616.0 M616.8,484.2H622.8 M623.6,475.6H636.5 M637.3,473.9H645.0 M645.8,472.9H656.9 M657.7,475.3H665.5 M666.3,477.3H672.3 M673.1,479.7H679.1 M679.9,482.1H692.8 M693.6,471.2H701.3 M702.1,468.5H709.8 M710.6,466.1H720.1 M720.9,463.7H728.6 M729.4,465.4H735.4 M736.2,468.5H742.2 M743.0,474.6H755.9" stroke="#ee0000" stroke-width="1.3" fill="none"/>
</g>
<line x1="342" y1="437.5" x2="758" y2="437.5" stroke="#888" stroke-width="1" />
<rect x="342.5" y="438.5" width="415" height="77" fill="none" stroke="#000" stroke-width="1"/>
<rect x="342" y="521" width="416" height="31" fill="#fff" />
<rect x="405.3" y="521" width="96.19999999999999" height="31" fill="#e8e8e8" />
<rect x="574.2" y="521" width="95.59999999999991" height="31" fill="#e8e8e8" />
<rect x="742.5" y="521" width="15.5" height="31" fill="#e8e8e8" />
<path d="M356.5,522V551 M377.5,522V551 M398.5,522V551 M419.5,522V551 M441.5,522V551 M462.5,522V551 M483.5,522V551 M504.5,522V551 M525.5,522V551 M546.5,522V551 M567.5,522V551 M588.5,522V551 M609.5,522V551 M630.5,522V551 M651.5,522V551 M673.5,522V551 M694.5,522V551 M715.5,522V551 M736.5,522V551" stroke="#000" stroke-width="1" stroke-dasharray="2,2" fill="none"/>
<path d="M336.2,536.2L343.7,536.2M343.2,536.2L350.7,536.2M350.2,536.2L357.7,536.2M357.2,536.2L364.7,536.2M364.2,536.5L371.7,536.1M371.4,537.6L378.7,536.0M379.7,540.3L385.6,535.6M391.1,542.7L391.9,535.2M401.9,541.9L398.4,535.3M409.8,541.4L405.2,535.4M417.3,541.0L412.2,535.5M424.6,540.6L419.1,535.5M431.7,540.5L426.2,535.5M438.9,540.4L433.2,535.6M445.9,540.4L440.2,535.6M452.9,540.4L447.2,535.6M460.0,540.4L454.2,535.6M466.8,540.5L461.3,535.5M473.6,540.8L468.3,535.5M480.2,541.2L475.4,535.4M486.5,541.7L482.5,535.4M492.0,542.4L489.8,535.2M494.9,542.3L497.4,535.3M497.7,537.3L505.1,536.0M504.6,536.2L512.1,536.2M511.7,536.2L519.2,536.2M518.7,536.2L526.2,536.2M525.7,536.2L533.2,536.2M532.7,536.2L540.2,536.2M539.7,536.2L547.2,536.2M546.8,536.2L554.3,536.2M553.8,536.2L561.3,536.2M560.8,536.2L568.3,536.2M567.8,536.2L575.3,536.2M574.8,536.2L582.3,536.2M582.3,538.4L589.3,535.9M591.7,541.6L595.9,535.4M600.6,542.4L602.7,535.2M608.5,542.6L609.6,535.2M610.1,537.6L617.4,536.0M617.0,536.4L624.5,536.2M624.3,534.2L631.4,536.5M631.9,533.0L638.4,536.7M639.2,532.5L645.3,536.8M646.0,532.8L652.4,536.7M653.7,531.9L659.3,536.9M661.9,530.9L666.2,537.0M669.5,530.5L673.1,537.1M676.2,530.7L680.1,537.0M682.6,531.1L687.3,537.0M689.1,531.5L694.4,536.9M695.8,531.9L701.4,536.9M702.7,532.0L708.5,536.8M709.7,532.0L715.5,536.8M717.1,531.7L722.5,536.9M724.5,531.3L729.4,537.0M731.5,531.3L736.4,537.0M739.0,530.9L743.4,537.0M745.1,531.8L750.6,536.9M752.0,531.9L757.6,536.9" stroke="#1010a0" stroke-width="1.5" fill="none"/>
<path d="M349.2,536.2L343.7,539.0L343.7,533.4ZM356.2,536.2L350.7,539.0L350.7,533.4ZM363.2,536.2L357.7,539.0L357.7,533.4ZM370.2,536.2L364.7,539.0L364.7,533.4ZM377.2,535.9L371.9,538.9L371.6,533.4ZM384.1,534.8L379.3,538.7L378.2,533.3ZM389.8,532.1L387.3,537.7L383.8,533.4ZM392.5,529.7L394.7,535.5L389.1,534.9ZM395.8,530.5L400.8,534.0L395.9,536.6ZM401.9,531.0L407.5,533.7L403.0,537.1ZM408.4,531.4L414.2,533.6L410.1,537.4ZM415.1,531.8L421.1,533.5L417.2,537.6ZM422.1,531.9L428.0,533.5L424.3,537.6ZM428.9,532.0L435.0,533.4L431.4,537.7ZM436.0,532.0L442.0,533.4L438.4,537.7ZM443.0,532.0L449.0,533.4L445.4,537.7ZM450.0,532.0L456.0,533.4L452.4,537.7ZM457.2,531.9L463.1,533.5L459.4,537.6ZM464.4,531.6L470.3,533.5L466.3,537.5ZM471.9,531.2L477.5,533.6L473.3,537.2ZM479.6,530.7L484.9,533.9L480.2,536.8ZM488.2,530.0L492.5,534.4L487.1,536.1ZM499.3,530.1L500.1,536.2L494.8,534.3ZM510.5,535.1L505.6,538.8L504.6,533.3ZM517.6,536.2L512.1,539.0L512.1,533.4ZM524.7,536.2L519.2,539.0L519.2,533.4ZM531.7,536.2L526.2,539.0L526.2,533.4ZM538.7,536.2L533.2,539.0L533.2,533.4ZM545.7,536.2L540.2,539.0L540.2,533.4ZM552.7,536.2L547.2,539.0L547.2,533.4ZM559.8,536.2L554.3,539.0L554.3,533.4ZM566.8,536.2L561.3,539.0L561.3,533.4ZM573.8,536.2L568.3,539.0L568.3,533.4ZM580.8,536.2L575.3,539.0L575.3,533.4ZM587.8,536.2L582.3,539.0L582.3,533.4ZM594.5,534.0L590.3,538.5L588.3,533.2ZM599.0,530.8L598.3,536.9L593.6,533.8ZM604.2,530.0L605.4,536.0L600.0,534.5ZM610.3,529.8L612.3,535.6L606.8,534.8ZM622.8,534.8L618.0,538.7L616.8,533.3ZM630.0,536.0L624.6,539.0L624.4,533.4ZM636.7,538.2L630.6,539.2L632.3,533.8ZM643.1,539.5L637.0,539.1L639.8,534.3ZM649.8,539.9L643.7,539.1L646.9,534.5ZM657.1,539.6L650.9,539.1L653.9,534.4ZM663.4,540.5L657.4,538.9L661.2,534.8ZM669.3,541.5L663.9,538.6L668.4,535.4ZM675.7,541.9L670.6,538.4L675.5,535.8ZM683.1,541.7L677.8,538.5L682.5,535.6ZM690.6,541.3L685.0,538.7L689.5,535.3ZM698.2,540.9L692.3,538.9L696.4,535.0ZM705.6,540.5L699.6,539.0L703.3,534.7ZM712.7,540.4L706.7,539.0L710.3,534.7ZM719.7,540.4L713.7,539.0L717.3,534.7ZM726.4,540.7L720.5,538.9L724.4,534.9ZM733.0,541.1L727.3,538.8L731.5,535.1ZM740.0,541.1L734.3,538.8L738.5,535.1ZM746.6,541.5L741.1,538.7L745.7,535.4ZM754.6,540.6L748.6,538.9L752.5,534.8ZM761.7,540.5L755.7,538.9L759.5,534.8Z" fill="#1010a0" stroke="#1010a0" stroke-width="0.6"/>
<rect x="342.5" y="521.5" width="415" height="30" fill="none" stroke="#000" stroke-width="1"/>
<line x1="342" y1="552.5" x2="758" y2="552.5" stroke="#8a8a8a" stroke-width="1" />
<rect x="342" y="558" width="416" height="79" fill="#87cefa" />
<rect x="405.3" y="558" width="96.19999999999999" height="79" fill="#7ebfec" />
<rect x="574.2" y="558" width="95.59999999999991" height="79" fill="#7ebfec" />
<rect x="742.5" y="558" width="15.5" height="79" fill="#7ebfec" />
<g clip-path="url(#c_cbase)">
<circle cx="343.4" cy="619" r="3.4" fill="#ffffff"/><circle cx="343.4" cy="616" r="3.4" fill="#c0c0c0"/><circle cx="343.4" cy="613.9" r="3.4" fill="#000"/><circle cx="349.7" cy="621.7" r="3.4" fill="#ffffff"/><circle cx="349.7" cy="619" r="3.4" fill="#c0c0c0"/><circle cx="349.7" cy="617" r="3.4" fill="#8a8a8a"/><circle cx="349.7" cy="614" r="3.4" fill="#000"/><circle cx="356.6" cy="625.7" r="3.4" fill="#ffffff"/><circle cx="356.6" cy="621" r="3.4" fill="#c0c0c0"/><circle cx="356.6" cy="618" r="3.4" fill="#8a8a8a"/><circle cx="356.6" cy="614" r="3.4" fill="#000"/><circle cx="363.6" cy="627" r="3.4" fill="#ffffff"/><circle cx="363.6" cy="622" r="3.4" fill="#c0c0c0"/><circle cx="363.6" cy="618" r="3.4" fill="#8a8a8a"/><circle cx="363.6" cy="614.5" r="3.4" fill="#000"/><circle cx="370.4" cy="627" r="3.4" fill="#ffffff"/><circle cx="370.4" cy="621" r="3.4" fill="#c0c0c0"/><circle cx="370.4" cy="618" r="3.4" fill="#8a8a8a"/><circle cx="370.4" cy="614.5" r="3.4" fill="#505050"/><circle cx="377.6" cy="627" r="3.4" fill="#ffffff"/><circle cx="377.6" cy="622" r="3.4" fill="#c0c0c0"/><circle cx="377.6" cy="618" r="3.4" fill="#8a8a8a"/><circle cx="377.6" cy="614.5" r="3.4" fill="#000"/><circle cx="384.7" cy="627" r="3.4" fill="#ffffff"/><circle cx="384.7" cy="622" r="3.4" fill="#c0c0c0"/><circle cx="384.7" cy="618" r="3.4" fill="#8a8a8a"/><circle cx="384.7" cy="615" r="3.4" fill="#000"/><circle cx="391.6" cy="629" r="3.4" fill="#ffffff"/><circle cx="391.6" cy="623" r="3.4" fill="#c0c0c0"/><circle cx="391.6" cy="619" r="3.4" fill="#8a8a8a"/><circle cx="391.6" cy="614.5" r="3.4" fill="#000"/><circle cx="398.6" cy="630" r="3.4" fill="#ffffff"/><circle cx="398.6" cy="623" r="3.4" fill="#c0c0c0"/><circle cx="398.6" cy="619.5" r="3.4" fill="#8a8a8a"/><circle cx="398.6" cy="603.7" r="3.4" fill="#000"/><circle cx="405.7" cy="630" r="3.4" fill="#c0c0c0"/><circle cx="405.7" cy="623" r="3.4" fill="#8a8a8a"/><circle cx="405.7" cy="608.5" r="3.4" fill="#000"/><circle cx="412.6" cy="630" r="3.4" fill="#8a8a8a"/><circle cx="412.6" cy="626" r="3.4" fill="#505050"/><circle cx="412.6" cy="623.5" r="3.4" fill="#000"/><circle cx="419.7" cy="630" r="3.4" fill="#8a8a8a"/><circle cx="419.7" cy="627" r="3.4" fill="#505050"/><circle cx="419.7" cy="623.5" r="3.4" fill="#000"/><circle cx="426.7" cy="630.5" r="3.4" fill="#000"/><circle cx="433.6" cy="630" r="3.4" fill="#8a8a8a"/><circle cx="433.6" cy="625" r="3.4" fill="#000"/><circle cx="440.7" cy="630" r="3.4" fill="#8a8a8a"/><circle cx="440.7" cy="624" r="3.4" fill="#505050"/><circle cx="440.7" cy="618" r="3.4" fill="#000"/><circle cx="447.9" cy="630" r="3.4" fill="#8a8a8a"/><circle cx="447.9" cy="626.5" r="3.4" fill="#000"/><circle cx="454.9" cy="630" r="3.4" fill="#505050"/><circle cx="454.9" cy="623.5" r="3.4" fill="#000"/><circle cx="461.7" cy="630" r="3.4" fill="#8a8a8a"/><circle cx="461.7" cy="625" r="3.4" fill="#505050"/><circle cx="461.7" cy="609.5" r="3.4" fill="#000"/><circle cx="468.9" cy="630" r="3.4" fill="#c0c0c0"/><circle cx="468.9" cy="625" r="3.4" fill="#8a8a8a"/><circle cx="468.9" cy="620" r="3.4" fill="#505050"/><circle cx="468.9" cy="614.5" r="3.4" fill="#000"/><circle cx="476.1" cy="630" r="3.4" fill="#c0c0c0"/><circle cx="476.1" cy="624" r="3.4" fill="#505050"/><circle cx="483" cy="630" r="3.4" fill="#8a8a8a"/><circle cx="483" cy="621.5" r="3.4" fill="#000"/><circle cx="490" cy="630" r="3.4" fill="#000"/><circle cx="497.1" cy="631" r="3.4" fill="#000"/><circle cx="504.2" cy="630" r="3.4" fill="#000"/><circle cx="511.3" cy="630" r="3.4" fill="#000"/><circle cx="518.3" cy="631" r="3.4" fill="#8a8a8a"/><circle cx="518.3" cy="628" r="3.4" fill="#000"/><circle cx="525.4" cy="630" r="3.4" fill="#000"/><circle cx="532.5" cy="630" r="3.4" fill="#000"/><circle cx="539.5" cy="631" r="3.4" fill="#8a8a8a"/><circle cx="539.5" cy="627.5" r="3.4" fill="#000"/><circle cx="546.6" cy="631" r="3.4" fill="#8a8a8a"/><circle cx="546.6" cy="627" r="3.4" fill="#000"/><circle cx="553.7" cy="631" r="3.4" fill="#ffffff"/><circle cx="553.7" cy="627" r="3.4" fill="#8a8a8a"/><circle cx="553.7" cy="623" r="3.4" fill="#000"/><circle cx="560.4" cy="630" r="3.4" fill="#8a8a8a"/><circle cx="560.4" cy="626.5" r="3.4" fill="#000"/><circle cx="567.5" cy="630" r="3.4" fill="#000"/><circle cx="574.6" cy="630" r="3.4" fill="#000"/><circle cx="581.6" cy="630" r="3.4" fill="#000"/><circle cx="588.7" cy="630" r="3.4" fill="#000"/><circle cx="595.8" cy="630" r="3.4" fill="#000"/><circle cx="602.9" cy="630" r="3.4" fill="#505050"/><circle cx="609.9" cy="629" r="3.4" fill="#8a8a8a"/><circle cx="609.9" cy="624.5" r="3.4" fill="#000"/><circle cx="616.8" cy="630" r="3.4" fill="#8a8a8a"/><circle cx="616.8" cy="624.5" r="3.4" fill="#000"/><circle cx="623.6" cy="630" r="3.4" fill="#8a8a8a"/><circle cx="623.6" cy="616.3" r="3.4" fill="#000"/><circle cx="630.9" cy="630" r="3.4" fill="#8a8a8a"/><circle cx="630.9" cy="623.5" r="3.4" fill="#000"/><circle cx="637.9" cy="630" r="3.4" fill="#8a8a8a"/><circle cx="644.8" cy="630" r="3.4" fill="#8a8a8a"/><circle cx="644.8" cy="625" r="3.4" fill="#000"/><circle cx="651.6" cy="628.5" r="3.4" fill="#000"/><circle cx="658.9" cy="630" r="3.4" fill="#000"/><circle cx="666.2" cy="629.5" r="3.4" fill="#000"/><circle cx="673.2" cy="630" r="3.4" fill="#000"/><circle cx="679.9" cy="629" r="3.4" fill="#000"/><circle cx="687.3" cy="630" r="3.4" fill="#8a8a8a"/><circle cx="687.3" cy="627" r="3.4" fill="#000"/><circle cx="694" cy="631" r="3.4" fill="#8a8a8a"/><circle cx="694" cy="628.5" r="3.4" fill="#000"/><circle cx="701" cy="630" r="3.4" fill="#8a8a8a"/><circle cx="701" cy="625" r="3.4" fill="#000"/><circle cx="707.9" cy="631" r="3.4" fill="#ffffff"/><circle cx="707.9" cy="628" r="3.4" fill="#8a8a8a"/><circle cx="707.9" cy="624" r="3.4" fill="#000"/><circle cx="715.1" cy="631" r="3.4" fill="#ffffff"/><circle cx="715.1" cy="630" r="3.4" fill="#c0c0c0"/><circle cx="715.1" cy="627" r="3.4" fill="#8a8a8a"/><circle cx="715.1" cy="623" r="3.4" fill="#000"/><circle cx="722.4" cy="631" r="3.4" fill="#8a8a8a"/><circle cx="722.4" cy="627.5" r="3.4" fill="#000"/><circle cx="729.3" cy="631" r="3.4" fill="#c0c0c0"/><circle cx="729.3" cy="628" r="3.4" fill="#8a8a8a"/><circle cx="729.3" cy="624" r="3.4" fill="#000"/><circle cx="736.3" cy="631" r="3.4" fill="#ffffff"/><circle cx="736.3" cy="627" r="3.4" fill="#8a8a8a"/><circle cx="736.3" cy="622.5" r="3.4" fill="#000"/><circle cx="743.4" cy="630" r="3.4" fill="#c0c0c0"/><circle cx="743.4" cy="626" r="3.4" fill="#8a8a8a"/><circle cx="743.4" cy="615.4" r="3.4" fill="#000"/><circle cx="750.4" cy="630" r="3.4" fill="#8a8a8a"/><circle cx="750.4" cy="627" r="3.4" fill="#000"/><circle cx="756.8" cy="630" r="3.4" fill="#000"/>
</g>
<path d="M342,577.5H757 M342,597.5H757 M342,616.5H757 M356.5,559V636 M377.5,559V636 M398.5,559V636 M419.5,559V636 M441.5,559V636 M462.5,559V636 M483.5,559V636 M504.5,559V636 M525.5,559V636 M546.5,559V636 M567.5,559V636 M588.5,559V636 M609.5,559V636 M630.5,559V636 M651.5,559V636 M673.5,559V636 M694.5,559V636 M715.5,559V636 M736.5,559V636" stroke="#000" stroke-width="1" stroke-dasharray="2,2" fill="none"/>
<g clip-path="url(#c_cbase)">
<polyline points="342.6,573.8 350.2,575.1 363.9,574.6 377.6,576.3 384.4,578.9 391.2,584.4 398.9,587.4 405.7,594.3 412.6,607.9 419.4,604.5 426.2,606.2 433.1,607.9 441.6,596.0 447.6,596.0 454.4,606.2 462.1,603.3 468.9,601.4 475.7,604.5 483.0,595.7 490.0,632.8 497.1,634.6 511.3,632.8 518.3,596.6 525.4,629.3 532.5,608.0 539.5,595.7 546.6,592.1 553.3,579.8 560.4,597.4 567.0,629.3 574.0,632.8 588.2,632.8 595.8,617.8 602.9,624.8 609.9,630.2 616.5,632.8 629.6,628.2 637.9,631.8 645.2,597.4 651.6,594.9 658.9,600.7 666.2,596.2 680.0,594.9 687.3,595.2 694.0,603.1 701.0,594.3 707.9,593.0 715.1,594.3 722.4,603.5 729.3,596.2 736.3,594.9 743.4,592.5 750.4,596.2 756.8,633.7" fill="none" stroke="#ff9900" stroke-width="2.2" stroke-linejoin="round" stroke-linecap="round" />
<g fill="#b22222"><circle cx="343.4" cy="567.3" r="3.3"/><circle cx="349.7" cy="567.3" r="3.3"/><circle cx="356.6" cy="567.3" r="3.3"/><circle cx="363.6" cy="567.3" r="3.3"/><circle cx="370.4" cy="567.3" r="3.3"/><circle cx="377.6" cy="567.3" r="3.3"/><circle cx="384.7" cy="567.3" r="3.3"/><circle cx="391.6" cy="567.3" r="3.3"/><circle cx="398.6" cy="567.3" r="3.3"/><circle cx="405.7" cy="567.3" r="3.3"/><circle cx="412.6" cy="567.3" r="3.3"/><circle cx="419.7" cy="567.3" r="3.3"/><circle cx="426.7" cy="567.3" r="3.3"/><circle cx="433.6" cy="568.7" r="3.3"/><circle cx="440.7" cy="568.7" r="3.3"/><circle cx="447.9" cy="572.1" r="3.3"/><circle cx="454.9" cy="572.9" r="3.3"/><circle cx="461.7" cy="572.9" r="3.3"/><circle cx="468.9" cy="575.5" r="3.3"/><circle cx="476.1" cy="576.3" r="3.3"/><circle cx="483" cy="570" r="3.3"/><circle cx="490" cy="568.3" r="3.3"/><circle cx="497.1" cy="568.3" r="3.3"/><circle cx="504.2" cy="570" r="3.3"/><circle cx="511.3" cy="571.3" r="3.3"/><circle cx="518.3" cy="571.3" r="3.3"/><circle cx="525.4" cy="572.2" r="3.3"/><circle cx="532.5" cy="572.2" r="3.3"/><circle cx="539.5" cy="573" r="3.3"/><circle cx="546.6" cy="572.2" r="3.3"/><circle cx="553.7" cy="573" r="3.3"/><circle cx="560.4" cy="573" r="3.3"/><circle cx="567.5" cy="573" r="3.3"/><circle cx="574.6" cy="574.1" r="3.3"/><circle cx="581.6" cy="573" r="3.3"/><circle cx="588.7" cy="573" r="3.3"/><circle cx="595.8" cy="573" r="3.3"/><circle cx="602.9" cy="573" r="3.3"/><circle cx="609.9" cy="573" r="3.3"/><circle cx="616.5" cy="574.1" r="3.3"/><circle cx="623.6" cy="573.8" r="3.3"/><circle cx="630.9" cy="573.8" r="3.3"/><circle cx="637.9" cy="574.8" r="3.3"/><circle cx="644.8" cy="574.8" r="3.3"/><circle cx="651.6" cy="575.1" r="3.3"/><circle cx="658.9" cy="579.3" r="3.3"/><circle cx="666.2" cy="580.6" r="3.3"/><circle cx="673.2" cy="580.6" r="3.3"/><circle cx="679.9" cy="589.4" r="3.3"/><circle cx="687.3" cy="597.1" r="3.3"/><circle cx="694" cy="596.2" r="3.3"/><circle cx="701" cy="597.1" r="3.3"/><circle cx="707.9" cy="597.1" r="3.3"/><circle cx="715.1" cy="597.1" r="3.3"/><circle cx="722.4" cy="598.9" r="3.3"/><circle cx="729.3" cy="602.6" r="3.3"/><circle cx="736.3" cy="602.6" r="3.3"/><circle cx="743.4" cy="602.6" r="3.3"/><circle cx="750.4" cy="602.6" r="3.3"/><circle cx="756.8" cy="602.6" r="3.3"/></g>
</g>
<rect x="342.5" y="558.5" width="415" height="78" fill="none" stroke="#000" stroke-width="1"/>
<rect x="342" y="645" width="416" height="76" fill="#87cefa" />
<rect x="405.3" y="645" width="96.19999999999999" height="76" fill="#7ebfec" />
<rect x="574.2" y="645" width="95.59999999999991" height="76" fill="#7ebfec" />
<rect x="742.5" y="645" width="15.5" height="76" fill="#7ebfec" />
<g clip-path="url(#c_ccov)">
<rect x="342" y="648" width="70" height="12" fill="#ffffff" />
<polygon points="341.0,660.0 343.4,660.0 349.4,647.7 356.2,652.8 362.2,647.7 369.9,660.0" fill="#5a5a5a" />
<polygon points="374.0,660.0 379.0,650.0 384.4,647.2 398.0,646.8 411.7,649.4 418.5,646.8 760.0,646.5 760.0,660.0" fill="#5a5a5a" />
<polyline points="343.0,656.0 349.4,648.2 356.2,653.3 362.2,648.2 367.0,650.0" fill="none" stroke="#fff" stroke-width="1" stroke-linejoin="round" stroke-linecap="round" />
<polyline points="379.0,650.5 384.4,647.6 398.0,647.3 411.7,649.9 418.5,647.3" fill="none" stroke="#fff" stroke-width="1" stroke-linejoin="round" stroke-linecap="round" />
<ellipse cx="500" cy="662" rx="14" ry="12" fill="#3e3e3e"/>
<ellipse cx="535" cy="664" rx="12" ry="12" fill="#3e3e3e"/>
<ellipse cx="585" cy="664" rx="16" ry="13" fill="#3e3e3e"/>
<ellipse cx="660" cy="664" rx="12" ry="9" fill="#3e3e3e"/>
<ellipse cx="692" cy="664" rx="10" ry="8" fill="#3e3e3e"/>
<polyline points="420.0,647.0 430.0,650.0 437.0,655.0 446.0,648.0 455.0,646.8" fill="none" stroke="#8a8a8a" stroke-width="1" stroke-linejoin="round" stroke-linecap="round" />
<polyline points="455.0,647.0 462.0,660.0" fill="none" stroke="#cccccc" stroke-width="1.2" stroke-linejoin="round" stroke-linecap="round" />
<polyline points="470.0,647.0 472.0,660.0" fill="none" stroke="#8a8a8a" stroke-width="1" stroke-linejoin="round" stroke-linecap="round" />
<polyline points="596.0,660.0 605.0,650.0 612.0,652.0 622.0,645.8 628.0,660.0" fill="none" stroke="#9a9a9a" stroke-width="1" stroke-linejoin="round" stroke-linecap="round" />
<polyline points="636.0,660.0 641.0,646.5 650.0,647.5 657.0,660.0" fill="none" stroke="#9a9a9a" stroke-width="1" stroke-linejoin="round" stroke-linecap="round" />
<rect x="488.8" y="654" width="2.6" height="6" fill="#ffb400" />
<rect x="496.40000000000003" y="646" width="2.6" height="14" fill="#ffb400" />
<rect x="503.0" y="652" width="2.6" height="8" fill="#ffb400" />
<rect x="510.1" y="657" width="2.6" height="3" fill="#ffb400" />
<rect x="572.8" y="658" width="2.6" height="2" fill="#ffb400" />
<rect x="579.8" y="655" width="2.6" height="5" fill="#ffb400" />
<rect x="587.0" y="656" width="2.6" height="4" fill="#ffb400" />
<line x1="757.5" y1="645" x2="757.5" y2="660" stroke="#ffb400" stroke-width="1.5" />
</g>
<path d="M356.5,646V720 M377.5,646V720 M398.5,646V720 M419.5,646V720 M441.5,646V720 M462.5,646V720 M483.5,646V720 M504.5,646V720 M525.5,646V720 M546.5,646V720 M567.5,646V720 M588.5,646V720 M609.5,646V720 M630.5,646V720 M651.5,646V720 M673.5,646V720 M694.5,646V720 M715.5,646V720 M736.5,646V720" stroke="#000" stroke-width="1" stroke-dasharray="2,2" fill="none"/>
<path d="M342.5,660V645.5H757.5V660" fill="none" stroke="#000" stroke-width="1"/>
<rect x="170.3" y="30" width="61.69999999999999" height="598" fill="#edf2fb" />
<defs>
<clipPath id="lc_temp"><rect x="135" y="57" width="111" height="77"/></clipPath>
<clipPath id="lc_prec"><rect x="135" y="143" width="111" height="78"/></clipPath>
<clipPath id="lc_pres"><rect x="135" y="229" width="111" height="78"/></clipPath>
<clipPath id="lc_wind"><rect x="135" y="315" width="111" height="78"/></clipPath>
<clipPath id="lc_wdir"><rect x="135" y="398" width="111" height="33"/></clipPath>
<clipPath id="lc_cbase"><rect x="135" y="436" width="111" height="79"/></clipPath>
<clipPath id="lc_ccov"><rect x="135" y="523" width="111" height="79"/></clipPath>
</defs>
<rect x="135" y="57" width="111" height="77" fill="#fff" />
<rect x="170.3" y="57" width="61.69999999999999" height="77" fill="#edf2fb" />
<g clip-path="url(#lc_temp)">
<rect x="135" y="111.7" width="111" height="22" fill="#87cefa" />
<polygon points="170.3,116.0 185.0,118.5 200.0,123.0 215.0,128.0 232.0,133.0 232.0,134.0 170.3,134.0" fill="#78b6e6" />
<polygon points="135.4,90.2 142.3,90.8 149.3,92.6 156.3,94.7 163.2,98.2 170.2,102.3 177.1,103.3 184.1,103.7 191.0,105.1 198.0,105.1 204.9,105.1 211.9,105.8 218.8,106.5 225.8,106.9 232.7,110.0 239.7,105.8 246.0,102.3 246.0,120.3 239.7,123.8 232.7,128.0 225.8,124.9 218.8,124.5 211.9,123.8 204.9,123.1 198.0,123.1 191.0,123.1 184.1,121.7 177.1,121.3 170.2,120.3 163.2,116.2 156.3,112.7 149.3,110.6 142.3,108.8 135.4,108.2" fill="#ffe6dc" opacity="0.9"/>
<polygon points="135.4,99.3 142.3,100.7 149.3,102.1 156.3,104.6 163.2,107.0 170.2,108.7 177.1,110.4 184.1,111.8 191.0,113.9 198.0,114.6 204.9,115.3 211.9,115.3 218.8,113.2 225.8,116.0 232.1,119.5 238.3,114.6 246.0,113.2 246.0,123.2 238.3,124.6 232.1,129.5 225.8,126.0 218.8,123.2 211.9,125.3 204.9,125.3 198.0,124.6 191.0,123.9 184.1,121.8 177.1,120.4 170.2,118.7 163.2,117.0 156.3,114.6 149.3,112.1 142.3,110.7 135.4,109.3" fill="#b4def9" opacity="0.9"/>
</g>
<path d="M135,59.5H245 M135,77.5H245 M135,94.5H245 M135,111.5H245 M135,129.5H245 M142.5,58V133 M163.5,58V133 M184.5,58V133 M205.5,58V133 M226.5,58V133" stroke="#000" stroke-width="1" stroke-dasharray="2,2" fill="none"/>
<g clip-path="url(#lc_temp)">
<path d="M142.5,71V115.5 M149.5,78V92.6 M156.3,87V99.5 M163.3,96V107 M170.3,100.9V114.8 M177.2,103V118.3 M184.2,108V120 M191.5,107V123.6 M198.5,108V124.9 M205.3,110V127 M212,110V129 M219,110V130.5 M226,110V133 M233,111V132 M240,106V120" stroke="#a01818" stroke-width="1.2" fill="none"/>
<polyline points="135.4,99.2 142.3,99.8 149.3,101.6 156.3,103.7 163.2,107.2 170.2,111.3 177.1,112.3 184.1,112.7 191.0,114.1 198.0,114.1 204.9,114.1 211.9,114.8 218.8,115.5 225.8,115.9 232.7,119.0 239.7,114.8 246.0,111.3" fill="none" stroke="#ff0000" stroke-width="2.6" stroke-linejoin="round" stroke-linecap="round" />
<polyline points="135.4,102.3 142.3,103.7 149.3,105.1 156.3,107.6 163.2,110.0 170.2,111.7 177.1,113.4 184.1,114.8 191.0,116.9 198.0,117.6 204.9,118.3 211.9,118.3 218.8,116.2 225.8,119.0 232.1,122.5 238.3,117.6 246.0,116.2" fill="none" stroke="#0000ff" stroke-width="2.6" stroke-linejoin="round" stroke-linecap="round" />
<g fill="#6a5acd"><rect x="141.1" y="111.6" width="3" height="3"/><rect x="147.8" y="111.9" width="3" height="3"/><rect x="154.8" y="113.6" width="3" height="3"/><rect x="162.0" y="113.6" width="3" height="3"/><rect x="169.0" y="113.0" width="3" height="3"/><rect x="176.0" y="114.5" width="3" height="3"/><rect x="183.0" y="115.5" width="3" height="3"/><rect x="190.2" y="116.8" width="3" height="3"/><rect x="197.2" y="118.9" width="3" height="3"/><rect x="204.0" y="118.5" width="3" height="3"/><rect x="211.0" y="119.5" width="3" height="3"/><rect x="218.0" y="118.9" width="3" height="3"/><rect x="225.0" y="120.3" width="3" height="3"/><rect x="232.0" y="121.5" width="3" height="3"/><rect x="238.9" y="117.5" width="3" height="3"/></g>
</g>
<rect x="135.5" y="57.5" width="110" height="76" fill="none" stroke="#000" stroke-width="1.2"/>
<rect x="135" y="143" width="111" height="78" fill="#fff" />
<rect x="170.3" y="143" width="61.69999999999999" height="78" fill="#edf2fb" />
<g clip-path="url(#lc_prec)">
<polygon points="135.0,221.0 135.7,187.0 143.5,187.0 143.5,181.2 149.4,181.2 149.4,179.0 157.1,179.0 157.1,202.2 164.0,202.2 164.0,207.7 169.5,207.7 169.5,218.3 176.8,218.3 176.8,221.0" fill="#00a000" />
<rect x="157.1" y="182" width="6.9" height="20.2" fill="#0a2acc" />
<rect x="164" y="205" width="5.5" height="2.7" fill="#0a2acc" />
</g>
<path d="M135,151.5H245 M135,168.5H245 M135,185.5H245 M135,203.5H245 M143.5,144V220 M164.5,144V220 M184.5,144V220 M204.5,144V220 M225.5,144V220" stroke="#000" stroke-width="1" stroke-dasharray="2,2" fill="none"/>
<g clip-path="url(#lc_prec)">
<path d="M139.3,164.7V187M146.3,147.3V181M153.4,147.3V179" stroke="#00a000" stroke-width="1.2"/>
<path d="M160.4,171V182" stroke="#0a2acc" stroke-width="1.2"/>
<rect x="144.8" y="145.8" width="3" height="3" fill="#ff0000" />
<rect x="151.9" y="145.8" width="3" height="3" fill="#ff0000" />
<polyline points="135.0,173.5 137.5,172.9 143.9,169.3 149.4,158.3 156.7,154.6 164.0,153.2 169.5,152.4 184.1,152.4 191.5,148.8 197.9,148.8 204.3,153.7 211.6,156.1 218.9,152.4 226.2,149.5 233.5,151.3 239.0,156.1 245.4,163.8" fill="none" stroke="#e2501c" stroke-width="2.2" stroke-linejoin="round" stroke-linecap="round" />
<circle cx="139.3" cy="173.5" r="2.4" fill="#ffff00" stroke="#7a3a00" stroke-width="0.7"/>
<circle cx="146.3" cy="173.5" r="2.4" fill="#ffa500" stroke="#7a3a00" stroke-width="0.7"/>
<circle cx="153.4" cy="173.5" r="2.4" fill="#ff0000" stroke="#7a3a00" stroke-width="0.7"/>
<path d="M136,219.5H170" stroke="#ff0000" stroke-width="1.2" stroke-dasharray="2,2.5"/>
</g>
<rect x="135.5" y="143.5" width="110" height="77" fill="none" stroke="#000" stroke-width="1.2"/>
<rect x="135" y="229" width="111" height="78" fill="#fff" />
<rect x="170.3" y="229" width="61.69999999999999" height="78" fill="#edf2fb" />
<g clip-path="url(#lc_pres)">
<polygon points="135.0,261.0 135.9,261.0 143.0,260.1 150.7,253.3 158.4,249.0 164.4,249.0 170.7,245.3 176.3,247.3 184.9,250.4 191.7,253.8 205.4,253.8 225.0,253.8 232.7,256.7 246.0,265.0 246.0,307.0 135.0,307.0" fill="#ffff00" />
<clipPath id="lc_pf"><polygon points="135,261 135.9,261 143,260.1 150.7,253.3 158.4,249 164.4,249 170.7,245.3 176.3,247.3 184.9,250.4 191.7,253.8 205.4,253.8 225,253.8 232.7,256.7 246,265 246,307 135,307"/></clipPath>
<rect x="165" y="240" width="4.5" height="67" fill="#ffdc00" clip-path="url(#lc_pf)"/>
</g>
<path d="M135,231.5H245 M135,254.5H245 M135,278.5H245 M135,301.5H245 M143.5,230V306 M164.5,230V306 M184.5,230V306 M204.5,230V306 M225.5,230V306" stroke="#000" stroke-width="1" stroke-dasharray="2,2" fill="none"/>
<g clip-path="url(#lc_pres)">
<polyline points="135.0,261.0 135.9,261.0 143.0,260.1 150.7,253.3 158.4,249.0 164.4,249.0 170.7,245.3 176.3,247.3 184.9,250.4 191.7,253.8 205.4,253.8 225.0,253.8 232.7,256.7 246.0,265.0" fill="none" stroke="#000" stroke-width="2.4" stroke-linejoin="round" stroke-linecap="round" />
</g>
<rect x="135.5" y="229.5" width="110" height="77" fill="none" stroke="#000" stroke-width="1.2"/>
<rect x="135" y="315" width="111" height="78" fill="#fff" />
<rect x="170.3" y="315" width="61.69999999999999" height="78" fill="#edf2fb" />
<g clip-path="url(#lc_wind)">
<clipPath id="lc_wf"><polygon points="135,364 135.9,364.3 138.8,366.3 147.3,370.1 154.1,371.5 164.4,372.8 171.2,374.5 178.9,375.2 184.9,374.5 191.7,373.2 198.5,372.3 210.5,372.3 224.1,372.8 232.7,370.6 239.5,369.4 246,369.4 246,393 135,393"/></clipPath>
<g clip-path="url(#lc_wf)">
<rect x="135" y="340" width="13.49999999999999" height="54" fill="#1ecc1e" />
<rect x="148.2" y="340" width="21.600000000000012" height="54" fill="#007800" />
<rect x="169.5" y="340" width="27.8" height="54" fill="#0c4a90" />
<rect x="197" y="340" width="14.3" height="54" fill="#007800" />
<rect x="211" y="340" width="14.3" height="54" fill="#0c4a90" />
<rect x="225" y="340" width="13.8" height="54" fill="#007800" />
<rect x="238.5" y="340" width="7.8" height="54" fill="#1ecc1e" />
</g>
</g>
<path d="M135,334.5H245 M135,354.5H245 M135,373.5H245 M143.5,316V392 M164.5,316V392 M184.5,316V392 M204.5,316V392 M225.5,316V392" stroke="#000" stroke-width="1" stroke-dasharray="2,2" fill="none"/>
<g clip-path="url(#lc_wind)">
<polyline points="135.0,364.0 135.9,364.3 138.8,366.3 147.3,370.1 154.1,371.5 164.4,372.8 171.2,374.5 178.9,375.2 184.9,374.5 191.7,373.2 198.5,372.3 210.5,372.3 224.1,372.8 232.7,370.6 239.5,369.4 246.0,369.4" fill="none" stroke="#0c0c8c" stroke-width="2.6" stroke-linejoin="round" stroke-linecap="round" />
<path d="M137.1,340.4H149 M148.2,347.6H161.8 M161.8,351.3H169.5 M169.5,355.2H176.3 M176.3,358.7H184.5 M184.5,354.4H189.1 M190,351H210.5 M210.5,351.3H225 M225,347.2H232.7 M232.7,343.3H239.5 M239.5,342.1H245.5" stroke="#ee0000" stroke-width="1.3"/>
</g>
<rect x="135.5" y="315.5" width="110" height="77" fill="none" stroke="#000" stroke-width="1.2"/>
<rect x="135" y="398" width="111" height="33" fill="#fff" />
<rect x="170.3" y="398" width="61.69999999999999" height="33" fill="#edf2fb" />
<path d="M143.5,399V430 M164.5,399V430 M184.5,399V430 M204.5,399V430 M225.5,399V430" stroke="#000" stroke-width="1" stroke-dasharray="2,2" fill="none"/>
<g clip-path="url(#lc_wdir)">
<path d="M139.7,407.0L144.4,417.5M146.3,407.0L151.0,417.5M152.9,407.0L157.6,417.5M161.4,406.1L164.3,417.2M167.9,406.1L170.8,417.2M174.5,406.1L177.4,417.2M181.1,406.1L184.0,417.2M187.7,406.1L190.6,417.2M195.7,406.1L198.6,417.2M202.3,406.1L205.2,417.2M208.9,406.1L211.8,417.2M216.2,406.1L219.1,417.2M222.8,406.1L225.7,417.2M230.1,406.1L233.0,417.2M236.7,406.1L239.6,417.2M243.3,406.1L246.2,417.2M135,418.5L141,420.5" stroke="#1010a0" stroke-width="1.4" fill="none"/>
<path d="M146.8,423.0L141.4,418.8L147.3,416.2ZM153.4,423.0L148.0,418.8L153.9,416.2ZM160.0,423.0L154.6,418.8L160.5,416.2ZM165.9,423.0L161.3,418.0L167.4,416.4ZM172.4,423.0L167.8,418.0L173.9,416.4ZM179.0,423.0L174.4,418.0L180.5,416.4ZM185.6,423.0L181.0,418.0L187.1,416.4ZM192.2,423.0L187.6,418.0L193.7,416.4ZM200.2,423.0L195.6,418.0L201.7,416.4ZM206.8,423.0L202.2,418.0L208.3,416.4ZM213.4,423.0L208.8,418.0L214.9,416.4ZM220.7,423.0L216.1,418.0L222.2,416.4ZM227.3,423.0L222.7,418.0L228.8,416.4ZM234.6,423.0L230.0,418.0L236.1,416.4ZM241.2,423.0L236.6,418.0L242.7,416.4ZM247.8,423.0L243.2,418.0L249.3,416.4ZM144,421L139,417.5L138.5,423.5Z" fill="#1010a0"/>
</g>
<rect x="135.5" y="398.5" width="110" height="32" fill="none" stroke="#000" stroke-width="1.2"/>
<path d="M250,421L244,417.5L244,424.5Z" fill="#1010a0"/>
<rect x="135" y="436" width="111" height="79" fill="#87cefa" />
<rect x="170.3" y="436" width="61.69999999999999" height="79" fill="#7ebfec" />
<g clip-path="url(#lc_cbase)">
<circle cx="137.5" cy="505" r="3.2" fill="#c0c0c0"/><circle cx="137.5" cy="509" r="3.2" fill="#ffffff"/><circle cx="143.4" cy="481.2" r="3.2" fill="#505050"/><circle cx="143.4" cy="500.4" r="3.2" fill="#8a8a8a"/><circle cx="143.4" cy="505" r="3.2" fill="#ffffff"/><circle cx="150.3" cy="492.2" r="3.2" fill="#505050"/><circle cx="150.3" cy="499.5" r="3.2" fill="#ffffff"/><circle cx="157.1" cy="492.2" r="3.2" fill="#505050"/><circle cx="164" cy="492.2" r="3.2" fill="#505050"/><circle cx="164" cy="499.1" r="3.2" fill="#ffffff"/><circle cx="170.4" cy="488.9" r="3.2" fill="#dddddd"/><circle cx="170.4" cy="492.5" r="3.2" fill="#ffffff"/><circle cx="177.4" cy="488.9" r="3.2" fill="#8a8a8a"/><circle cx="177.4" cy="492.5" r="3.2" fill="#ffffff"/><circle cx="184.1" cy="488.9" r="3.2" fill="#000"/><circle cx="184.1" cy="500.4" r="3.2" fill="#505050"/><circle cx="184.1" cy="504.6" r="3.2" fill="#8a8a8a"/><circle cx="184.1" cy="509" r="3.2" fill="#ffffff"/><circle cx="191.5" cy="488.9" r="3.2" fill="#505050"/><circle cx="191.5" cy="500.4" r="3.2" fill="#ffffff"/><circle cx="198.4" cy="484.9" r="3.2" fill="#8a8a8a"/><circle cx="198.4" cy="488.9" r="3.2" fill="#dddddd"/><circle cx="198.4" cy="492.5" r="3.2" fill="#ffffff"/><circle cx="204.3" cy="492.2" r="3.2" fill="#ffffff"/><circle cx="211.2" cy="481.2" r="3.2" fill="#8a8a8a"/><circle cx="211.2" cy="484.9" r="3.2" fill="#c0c0c0"/><circle cx="211.2" cy="488.9" r="3.2" fill="#dddddd"/><circle cx="211.2" cy="492.5" r="3.2" fill="#ffffff"/><circle cx="218.3" cy="481.2" r="3.2" fill="#000"/><circle cx="218.3" cy="488.9" r="3.2" fill="#505050"/><circle cx="218.3" cy="492.5" r="3.2" fill="#8a8a8a"/><circle cx="218.3" cy="500.4" r="3.2" fill="#c0c0c0"/><circle cx="218.3" cy="509" r="3.2" fill="#ffffff"/><circle cx="225.3" cy="484.9" r="3.2" fill="#000"/><circle cx="225.3" cy="492.5" r="3.2" fill="#505050"/><circle cx="225.3" cy="500.4" r="3.2" fill="#c0c0c0"/><circle cx="225.3" cy="509" r="3.2" fill="#ffffff"/><circle cx="232.2" cy="488.9" r="3.2" fill="#000"/><circle cx="232.2" cy="494" r="3.2" fill="#505050"/><circle cx="232.2" cy="500.4" r="3.2" fill="#8a8a8a"/><circle cx="232.2" cy="509" r="3.2" fill="#ffffff"/><circle cx="239.4" cy="481.2" r="3.2" fill="#000"/><circle cx="239.4" cy="494" r="3.2" fill="#8a8a8a"/><circle cx="239.4" cy="500.4" r="3.2" fill="#c0c0c0"/><circle cx="239.4" cy="509" r="3.2" fill="#ffffff"/><circle cx="244.5" cy="475.7" r="3.2" fill="#000"/><circle cx="244.5" cy="481.2" r="3.2" fill="#8a8a8a"/><circle cx="191.5" cy="456.5" r="3.2" fill="#000"/><circle cx="198.4" cy="468.4" r="3.2" fill="#505050"/><circle cx="198.4" cy="463.8" r="3.2" fill="#000"/><circle cx="204.3" cy="467.5" r="3.2" fill="#000"/><circle cx="211.2" cy="469.9" r="3.2" fill="#000"/>
</g>
<path d="M135,456.5H245 M135,475.5H245 M135,495.5H245 M143.5,437V514 M164.5,437V514 M184.5,437V514 M204.5,437V514 M225.5,437V514" stroke="#000" stroke-width="1" stroke-dasharray="2,2" fill="none"/>
<g clip-path="url(#lc_cbase)">
<polyline points="135.0,471.2 143.4,471.2 150.3,465.7 157.1,464.8 164.0,463.5 178.7,463.8 184.1,466.6 191.5,469.9 198.4,470.6 204.3,470.6 211.2,472.4 218.3,474.8 232.2,474.3 239.4,471.2 246.0,469.3" fill="none" stroke="#ff9900" stroke-width="2.2" stroke-linejoin="round" stroke-linecap="round" />
<g fill="#b22222"><circle cx="137.5" cy="474.8" r="3.2"/><circle cx="143.4" cy="474.8" r="3.2"/><circle cx="150.3" cy="458.4" r="3.2"/><circle cx="157.1" cy="458.4" r="3.2"/><circle cx="164" cy="459.6" r="3.2"/><circle cx="170.4" cy="451.6" r="3.2"/><circle cx="177.4" cy="449.6" r="3.2"/><circle cx="184.1" cy="449.2" r="3.2"/><circle cx="191.5" cy="449.6" r="3.2"/><circle cx="198.4" cy="451.6" r="3.2"/><circle cx="204.3" cy="449.2" r="3.2"/><circle cx="211.2" cy="449.6" r="3.2"/><circle cx="218.3" cy="449.6" r="3.2"/><circle cx="225.3" cy="449.6" r="3.2"/><circle cx="232.2" cy="449.6" r="3.2"/><circle cx="239.4" cy="449.6" r="3.2"/><circle cx="245" cy="449.6" r="3.2"/></g>
</g>
<rect x="135.5" y="436.5" width="110" height="78" fill="none" stroke="#000" stroke-width="1.2"/>
<rect x="135" y="523" width="111" height="79" fill="#87cefa" />
<rect x="170.3" y="523" width="61.69999999999999" height="79" fill="#7ebfec" />
<g clip-path="url(#lc_ccov)">
<polygon points="165.9,602.0 165.9,589.7 168.8,579.5 173.9,567.0 179.8,564.1 186.0,560.0 192.9,547.3 198.8,544.3 204.6,543.6 209.0,531.2 214.9,525.3 232.4,524.1 236.0,528.0 244.2,542.1 246.0,545.0 246.0,602.0" fill="#ffffff" />
<polygon points="184.1,602.0 194.4,544.3 197.3,531.9 203.2,532.6 209.0,530.4 217.8,525.3 232.4,524.0 246.0,523.0 246.0,602.0" fill="#999999" />
<polygon points="135.0,602.0 135.9,576.5 143.2,564.1 150.5,578.0 163.7,585.3 166.5,590.0 166.5,602.0" fill="#555555" />
<polygon points="165.5,602.0 166.0,590.0 179.8,591.9 184.9,568.5 191.5,570.7 194.4,579.5 203.2,594.1 212.0,579.5 217.8,547.3 225.1,535.6 232.4,537.0 239.8,547.3 244.2,566.3 246.0,570.0 246.0,602.0" fill="#555555" />
<polygon points="138.8,602.0 149.0,591.2 162.2,599.2 163.0,602.0" fill="#333333" />
<polyline points="135.5,587.0 141.0,593.0 150.0,597.0 160.0,599.0" fill="none" stroke="#dddddd" stroke-width="0.8" stroke-linejoin="round" stroke-linecap="round" />
<polyline points="183.0,601.0 188.0,585.0 192.0,575.0" fill="none" stroke="#dddddd" stroke-width="0.8" stroke-linejoin="round" stroke-linecap="round" />
<polyline points="232.4,524.3 238.0,531.0 244.2,541.5" fill="none" stroke="#ffffff" stroke-width="1" stroke-linejoin="round" stroke-linecap="round" />
<rect x="216.89999999999998" y="589.7" width="2.6" height="11" fill="#ffb300" />
<rect x="224.1" y="589.7" width="2.6" height="11" fill="#ffb300" />
<rect x="231.1" y="589.7" width="2.6" height="11" fill="#ffb300" />
<rect x="238.2" y="589.7" width="2.6" height="11" fill="#ffb300" />
</g>
<path d="M135,543.5H245 M135,562.5H245 M135,582.5H245 M143.5,524V601 M164.5,524V601 M184.5,524V601 M204.5,524V601 M225.5,524V601" stroke="#000" stroke-width="1" stroke-dasharray="2,2" fill="none"/>
<rect x="135.5" y="523.5" width="110" height="78" fill="none" stroke="#000" stroke-width="1.2"/>
<text x="128.8" y="62.7" font-size="11.2" fill="#000" text-anchor="end" font-weight="normal" >30</text>
<text x="128.8" y="80.7" font-size="11.2" fill="#000" text-anchor="end" font-weight="normal" >20</text>
<text x="128.8" y="97.7" font-size="11.2" fill="#000" text-anchor="end" font-weight="normal" >10</text>
<text x="128.8" y="114.7" font-size="11.2" fill="#000" text-anchor="end" font-weight="normal" >0</text>
<text x="128.8" y="132.7" font-size="11.2" fill="#000" text-anchor="end" font-weight="normal" >-10</text>
<text x="254" y="62.7" font-size="11.2" fill="#000" text-anchor="start" font-weight="normal" >30</text>
<text x="254" y="80.7" font-size="11.2" fill="#000" text-anchor="start" font-weight="normal" >20</text>
<text x="254" y="97.7" font-size="11.2" fill="#000" text-anchor="start" font-weight="normal" >10</text>
<text x="254" y="114.7" font-size="11.2" fill="#000" text-anchor="start" font-weight="normal" >0</text>
<text x="251" y="132.7" font-size="11.2" fill="#000" text-anchor="start" font-weight="normal" >-10</text>
<text x="128.8" y="154.7" font-size="11.2" fill="#000" text-anchor="end" font-weight="normal" >2.0</text>
<text x="253" y="154.7" font-size="11.2" fill="#e2501a" text-anchor="start" font-weight="normal" >96</text>
<text x="128.8" y="171.7" font-size="11.2" fill="#000" text-anchor="end" font-weight="normal" >1.5</text>
<text x="253" y="171.7" font-size="11.2" fill="#e2501a" text-anchor="start" font-weight="normal" >84</text>
<text x="128.8" y="188.7" font-size="11.2" fill="#000" text-anchor="end" font-weight="normal" >1.0</text>
<text x="253" y="188.7" font-size="11.2" fill="#e2501a" text-anchor="start" font-weight="normal" >73</text>
<text x="128.8" y="206.7" font-size="11.2" fill="#000" text-anchor="end" font-weight="normal" >0.5</text>
<text x="253" y="206.7" font-size="11.2" fill="#e2501a" text-anchor="start" font-weight="normal" >61</text>
<text x="128.8" y="223.7" font-size="11.2" fill="#000" text-anchor="end" font-weight="normal" >0.0</text>
<text x="253" y="223.7" font-size="11.2" fill="#e2501a" text-anchor="start" font-weight="normal" >50</text>
<text x="128.8" y="234.7" font-size="11.2" fill="#000" text-anchor="end" font-weight="normal" >1018</text>
<text x="253" y="234.7" font-size="11.2" fill="#000" text-anchor="start" font-weight="normal" >1018</text>
<text x="128.8" y="257.7" font-size="11.2" fill="#000" text-anchor="end" font-weight="normal" >1016</text>
<text x="253" y="257.7" font-size="11.2" fill="#000" text-anchor="start" font-weight="normal" >1016</text>
<text x="128.8" y="281.7" font-size="11.2" fill="#000" text-anchor="end" font-weight="normal" >1014</text>
<text x="253" y="281.7" font-size="11.2" fill="#000" text-anchor="start" font-weight="normal" >1014</text>
<text x="128.8" y="304.7" font-size="11.2" fill="#000" text-anchor="end" font-weight="normal" >1012</text>
<text x="253" y="304.7" font-size="11.2" fill="#000" text-anchor="start" font-weight="normal" >1012</text>
<text x="128.8" y="319.2" font-size="11.2" fill="#000" text-anchor="end" font-weight="normal" >20</text>
<text x="253" y="319.2" font-size="11.2" fill="#000" text-anchor="start" font-weight="normal" >72</text>
<text x="128.8" y="337.7" font-size="11.2" fill="#000" text-anchor="end" font-weight="normal" >15</text>
<text x="253" y="337.7" font-size="11.2" fill="#000" text-anchor="start" font-weight="normal" >54</text>
<text x="128.8" y="357.7" font-size="11.2" fill="#000" text-anchor="end" font-weight="normal" >10</text>
<text x="253" y="357.7" font-size="11.2" fill="#000" text-anchor="start" font-weight="normal" >36</text>
<text x="128.8" y="376.7" font-size="11.2" fill="#000" text-anchor="end" font-weight="normal" >5</text>
<text x="253" y="376.7" font-size="11.2" fill="#000" text-anchor="start" font-weight="normal" >18</text>
<text x="128.8" y="395.7" font-size="11.2" fill="#000" text-anchor="end" font-weight="normal" >0</text>
<text x="253" y="395.7" font-size="11.2" fill="#000" text-anchor="start" font-weight="normal" >0</text>
<text x="128.8" y="440.2" font-size="11.2" fill="#000" text-anchor="end" font-weight="normal" >15.0</text>
<text x="253" y="440.2" font-size="11.2" fill="#ff8c00" text-anchor="start" font-weight="normal" >100</text>
<text x="128.8" y="459.7" font-size="11.2" fill="#000" text-anchor="end" font-weight="normal" >7.0</text>
<text x="253" y="459.7" font-size="11.2" fill="#ff8c00" text-anchor="start" font-weight="normal" >20</text>
<text x="128.8" y="478.7" font-size="11.2" fill="#000" text-anchor="end" font-weight="normal" >2.0</text>
<text x="253" y="478.7" font-size="11.2" fill="#ff8c00" text-anchor="start" font-weight="normal" >5</text>
<text x="128.8" y="498.7" font-size="11.2" fill="#000" text-anchor="end" font-weight="normal" >0.5</text>
<text x="253" y="498.7" font-size="11.2" fill="#ff8c00" text-anchor="start" font-weight="normal" >1</text>
<text x="128.8" y="517.7" font-size="11.2" fill="#000" text-anchor="end" font-weight="normal" >0.0</text>
<text x="253" y="517.7" font-size="11.2" fill="#ff8c00" text-anchor="start" font-weight="normal" >0</text>
<text x="128.8" y="526.7" font-size="11.2" fill="#000" text-anchor="end" font-weight="normal" >8</text>
<text x="253" y="526.7" font-size="11.2" fill="#ff8c00" text-anchor="start" font-weight="normal" >1</text>
<text x="128.8" y="546.7" font-size="11.2" fill="#000" text-anchor="end" font-weight="normal" >6</text>
<text x="253" y="546.7" font-size="11.2" fill="#ff8c00" text-anchor="start" font-weight="normal" >0.75</text>
<text x="128.8" y="565.7" font-size="11.2" fill="#000" text-anchor="end" font-weight="normal" >4</text>
<text x="253" y="565.7" font-size="11.2" fill="#ff8c00" text-anchor="start" font-weight="normal" >0.5</text>
<text x="128.8" y="585.7" font-size="11.2" fill="#000" text-anchor="end" font-weight="normal" >2</text>
<text x="253" y="585.7" font-size="11.2" fill="#ff8c00" text-anchor="start" font-weight="normal" >0.25</text>
<text x="128.8" y="604.7" font-size="11.2" fill="#000" text-anchor="end" font-weight="normal" >0</text>
<text x="253" y="604.7" font-size="11.2" fill="#ff8c00" text-anchor="start" font-weight="normal" >0</text>
<text x="163.8" y="52" font-size="12.4" fill="#000" text-anchor="middle" font-weight="normal" >20</text>
<text x="204" y="52" font-size="12.4" fill="#000" text-anchor="middle" font-weight="normal" >02</text>
<text x="244.6" y="52" font-size="12.4" fill="#000" text-anchor="middle" font-weight="normal" >08</text>
<text x="164.8" y="615" font-size="12.4" fill="#000" text-anchor="middle" font-weight="normal" >18</text>
<text x="203.6" y="615" font-size="12.4" fill="#000" text-anchor="middle" font-weight="normal" >00</text>
<text x="244.7" y="615" font-size="12.4" fill="#000" text-anchor="middle" font-weight="normal" >06</text>
<text x="6" y="17.6" font-size="11" fill="#000" text-anchor="start" font-weight="normal" textLength="59" lengthAdjust="spacingAndGlyphs">Czas lokalny</text>
<text x="6" y="29.6" font-size="11" fill="#000" text-anchor="start" font-weight="normal" textLength="54" lengthAdjust="spacingAndGlyphs">(CET/CEST)</text>
<text x="6" y="46" font-size="11" fill="#b22222" text-anchor="start" font-weight="normal" textLength="93" lengthAdjust="spacingAndGlyphs">Temperatura gruntu</text>
<text x="28" y="56.5" font-size="11" fill="#b22222" text-anchor="start" font-weight="normal" textLength="38" lengthAdjust="spacingAndGlyphs">max/min</text>
<text x="6" y="68" font-size="11" fill="#000" text-anchor="start" font-weight="normal" textLength="61" lengthAdjust="spacingAndGlyphs">Temperatura:</text>
<text x="13" y="80.5" font-size="11" fill="#ff0000" text-anchor="start" font-weight="normal" textLength="77" lengthAdjust="spacingAndGlyphs">punkt środkowy</text>
<text x="28" y="90.5" font-size="11" fill="#ffc8b4" text-anchor="start" font-weight="normal" textLength="38" lengthAdjust="spacingAndGlyphs">max/min</text>
<text x="10" y="103" font-size="11" fill="#0000ff" text-anchor="start" font-weight="normal" textLength="57" lengthAdjust="spacingAndGlyphs">odczuwana</text>
<text x="28" y="111.5" font-size="11" fill="#a8d8f8" text-anchor="start" font-weight="normal" textLength="38" lengthAdjust="spacingAndGlyphs">max/min</text>
<text x="7" y="123.8" font-size="11" fill="#6a5acd" text-anchor="start" font-weight="normal" textLength="86" lengthAdjust="spacingAndGlyphs">Temp. punktu rosy</text>
<text x="6" y="141" font-size="11" fill="#ff0000" text-anchor="start" font-weight="normal" textLength="94" lengthAdjust="spacingAndGlyphs">Opad powyżej skali</text>
<text x="6" y="154.8" font-size="11" fill="#e2501c" text-anchor="start" font-weight="normal" textLength="97" lengthAdjust="spacingAndGlyphs">Wilgotność względna</text>
<text x="6" y="169" font-size="11" fill="#000" text-anchor="start" font-weight="normal" textLength="85" lengthAdjust="spacingAndGlyphs">Wystąpienie burzy</text>
<text x="6" y="182.8" font-size="11" fill="#00a800" text-anchor="start" font-weight="normal" >Deszcz:</text>
<text x="49" y="182.8" font-size="11" fill="#00a800" text-anchor="start" font-weight="normal" >max</text>
<text x="49" y="193.8" font-size="11" fill="#00a800" text-anchor="start" font-weight="normal" textLength="29" lengthAdjust="spacingAndGlyphs">średni</text>
<text x="6" y="205.8" font-size="11" fill="#1a30d0" text-anchor="start" font-weight="normal" >Śnieg:</text>
<text x="49" y="205.8" font-size="11" fill="#1a30d0" text-anchor="start" font-weight="normal" >max</text>
<text x="49" y="216.8" font-size="11" fill="#1a30d0" text-anchor="start" font-weight="normal" textLength="29" lengthAdjust="spacingAndGlyphs">średni</text>
<text x="5" y="229" font-size="11" fill="#ff0000" text-anchor="start" font-weight="normal" textLength="89" lengthAdjust="spacingAndGlyphs">Wystąpienie opadu</text>
<text x="5" y="240.5" font-size="11" fill="#ff0000" text-anchor="start" font-weight="normal" textLength="72" lengthAdjust="spacingAndGlyphs">konwekcyjnego</text>
<text x="5" y="266.8" font-size="11" fill="#000" text-anchor="start" font-weight="normal" textLength="42" lengthAdjust="spacingAndGlyphs">Ciśnienie</text>
<text x="5" y="280.5" font-size="11" fill="#000" text-anchor="start" font-weight="normal" textLength="66" lengthAdjust="spacingAndGlyphs">zredukowane</text>
<text x="5" y="293.8" font-size="11" fill="#000" text-anchor="start" font-weight="normal" textLength="87" lengthAdjust="spacingAndGlyphs">do poziomu morza</text>
<text x="5" y="322.5" font-size="11" fill="#000" textLength="66" lengthAdjust="spacingAndGlyphs">Wiatr na <tspan font-family="Liberation Serif">10m</tspan>:</text>
<text x="9" y="337.5" font-size="11" fill="#ff0000" text-anchor="start" font-weight="normal" textLength="101" lengthAdjust="spacingAndGlyphs">poryw powyżej skali</text>
<text x="9" y="351.8" font-size="11" fill="#ff0000" text-anchor="start" font-weight="normal" textLength="95" lengthAdjust="spacingAndGlyphs">max porywy wiatru</text>
<text x="9" y="372" font-size="11" fill="#1a1aa0" text-anchor="start" font-weight="normal" textLength="79" lengthAdjust="spacingAndGlyphs">prędkość wiatru</text>
<text x="9" y="385.5" font-size="11" fill="#1a1aa0" text-anchor="start" font-weight="normal" textLength="89" lengthAdjust="spacingAndGlyphs">w środku obszaru</text>
<text x="9" y="413.5" font-size="11" fill="#1a1aa0" text-anchor="start" font-weight="normal" textLength="74" lengthAdjust="spacingAndGlyphs">kierunek wiatru</text>
<text x="6" y="434.5" font-size="11" fill="#a52a2a" text-anchor="start" font-weight="normal" textLength="90" lengthAdjust="spacingAndGlyphs">Wierzchołek chmur</text>
<text x="6" y="448.8" font-size="11" fill="#000" text-anchor="start" font-weight="normal" textLength="85" lengthAdjust="spacingAndGlyphs">Podstawa chmur*</text>
<text x="6" y="460" font-size="11" fill="#000" text-anchor="start" font-weight="normal" textLength="47" lengthAdjust="spacingAndGlyphs">o pokryciu</text>
<text x="10" y="472.5" font-size="11" fill="#000" text-anchor="start" font-weight="normal" textLength="44" lengthAdjust="spacingAndGlyphs">&gt; 7.9 okt.</text>
<text x="10" y="483.5" font-size="11" fill="#555555" text-anchor="start" font-weight="normal" textLength="44" lengthAdjust="spacingAndGlyphs">&gt; 6.5 okt.</text>
<text x="10" y="494" font-size="11" fill="#9a9a9a" text-anchor="start" font-weight="normal" textLength="44" lengthAdjust="spacingAndGlyphs">&gt; 4.5 okt.</text>
<text x="10" y="504.8" font-size="11" fill="#d0d0d0" text-anchor="start" font-weight="normal" textLength="44" lengthAdjust="spacingAndGlyphs">&gt; 2.5 okt.</text>
<rect x="11" y="505.5" width="44" height="12" fill="#87cefa" />
<text x="11" y="515.3" font-size="11" fill="#ffffff" text-anchor="start" font-weight="normal" textLength="44" lengthAdjust="spacingAndGlyphs">&gt; 0.1 okt.</text>
<text x="6" y="529.8" font-size="11" fill="#ff8c00" text-anchor="start" font-weight="normal" textLength="57" lengthAdjust="spacingAndGlyphs">Widzialność</text>
<text x="6" y="546" font-size="11" fill="#000" text-anchor="start" font-weight="normal" textLength="39" lengthAdjust="spacingAndGlyphs">Chmury:</text>
<rect x="10" y="551" width="41" height="12" fill="#87cefa" />
<text x="10" y="560.5" font-size="11" fill="#ffffff" text-anchor="start" font-weight="normal" textLength="40" lengthAdjust="spacingAndGlyphs">wysokie</text>
<text x="10" y="572.5" font-size="11" fill="#9a9a9a" text-anchor="start" font-weight="normal" textLength="35" lengthAdjust="spacingAndGlyphs">średnie</text>
<text x="10" y="584" font-size="11" fill="#333333" text-anchor="start" font-weight="normal" textLength="26" lengthAdjust="spacingAndGlyphs">niskie</text>
<text x="10" y="596" font-size="11" fill="#111111" text-anchor="start" font-weight="normal" textLength="61" lengthAdjust="spacingAndGlyphs">bardzo niskie</text>
<text x="6" y="608.5" font-size="11" fill="#ffb000" text-anchor="start" font-weight="normal" textLength="20" lengthAdjust="spacingAndGlyphs">Mgła</text>
<text x="6" y="626.5" font-size="11.5" fill="#000" textLength="131" lengthAdjust="spacing">Czas uniwersalny (UTC)</text>
<text x="5" y="652" font-size="8.5" fill="#000" font-weight="bold" textLength="103" lengthAdjust="spacingAndGlyphs">* powyżej poziomu morza</text>
<polyline points="68.0,16.5 134.0,16.5 156.0,46.0" fill="none" stroke="#000" stroke-width="1" stroke-linejoin="round" stroke-linecap="round" stroke-linecap="butt"/>
<polyline points="102.0,44.5 119.5,44.5 148.5,84.0" fill="none" stroke="#b22222" stroke-width="1" stroke-linejoin="round" stroke-linecap="round" stroke-linecap="butt"/>
<polyline points="92.0,76.6 114.5,76.6" fill="none" stroke="#ff0000" stroke-width="1" stroke-linejoin="round" stroke-linecap="round" stroke-linecap="butt"/>
<polyline points="129.0,76.6 134.0,78.0 163.2,107.2" fill="none" stroke="#ff0000" stroke-width="1" stroke-linejoin="round" stroke-linecap="round" stroke-linecap="butt"/>
<polyline points="70.0,99.3 132.0,99.3 136.0,102.0" fill="none" stroke="#0000ff" stroke-width="1" stroke-linejoin="round" stroke-linecap="round" stroke-linecap="butt"/>
<polyline points="95.0,120.1 131.5,120.1 142.0,113.0" fill="none" stroke="#6a5acd" stroke-width="1" stroke-linejoin="round" stroke-linecap="round" stroke-linecap="butt"/>
<polyline points="103.0,137.5 141.0,137.5 145.8,147.0" fill="none" stroke="#ff0000" stroke-width="1" stroke-linejoin="round" stroke-linecap="round" stroke-linecap="butt"/>
<polyline points="105.0,151.3 110.5,151.3" fill="none" stroke="#e2501c" stroke-width="1" stroke-linejoin="round" stroke-linecap="round" stroke-linecap="butt"/>
<polyline points="129.5,151.3 146.0,159.0" fill="none" stroke="#e2501c" stroke-width="1" stroke-linejoin="round" stroke-linecap="round" stroke-linecap="butt"/>
<polyline points="94.0,167.5 112.0,167.5" fill="none" stroke="#000" stroke-width="1" stroke-linejoin="round" stroke-linecap="round" stroke-linecap="butt"/>
<polyline points="129.5,166.5 131.5,166.5 137.0,172.0" fill="none" stroke="#000" stroke-width="1" stroke-linejoin="round" stroke-linecap="round" stroke-linecap="butt"/>
<polyline points="71.0,179.3 139.0,179.3" fill="none" stroke="#00a800" stroke-width="1" stroke-linejoin="round" stroke-linecap="round" stroke-linecap="butt"/>
<polyline points="80.0,190.2 136.0,190.2" fill="none" stroke="#00a800" stroke-width="1" stroke-linejoin="round" stroke-linecap="round" stroke-linecap="butt"/>
<polyline points="70.0,202.2 112.5,202.2" fill="none" stroke="#1a30d0" stroke-width="1" stroke-linejoin="round" stroke-linecap="round" stroke-linecap="butt"/>
<polyline points="129.5,202.2 131.0,202.2 160.4,171.0" fill="none" stroke="#1a30d0" stroke-width="1" stroke-linejoin="round" stroke-linecap="round" stroke-linecap="butt"/>
<polyline points="80.0,213.2 130.0,213.2 157.0,182.0" fill="none" stroke="#1a30d0" stroke-width="1" stroke-linejoin="round" stroke-linecap="round" stroke-linecap="butt"/>
<polyline points="97.0,225.5 145.5,225.5 147.5,220.0" fill="none" stroke="#ff0000" stroke-width="1" stroke-linejoin="round" stroke-linecap="round" stroke-linecap="butt"/>
<polyline points="52.0,264.0 130.0,264.0 135.5,261.0" fill="none" stroke="#000" stroke-width="1" stroke-linejoin="round" stroke-linecap="round" stroke-linecap="butt"/>
<polyline points="111.8,334.2 118.2,334.2" fill="none" stroke="#ff0000" stroke-width="1" stroke-linejoin="round" stroke-linecap="round" stroke-linecap="butt"/>
<polyline points="130.0,334.5 136.0,322.0 138.5,317.0" fill="none" stroke="#ff0000" stroke-width="1" stroke-linejoin="round" stroke-linecap="round" stroke-linecap="butt"/>
<polyline points="107.3,348.2 130.9,348.2 145.5,340.4" fill="none" stroke="#ff0000" stroke-width="1" stroke-linejoin="round" stroke-linecap="round" stroke-linecap="butt"/>
<polyline points="92.4,367.6 135.5,367.6" fill="none" stroke="#1a1aa0" stroke-width="1" stroke-linejoin="round" stroke-linecap="round" stroke-linecap="butt"/>
<polyline points="86.4,410.0 136.4,410.0 140.0,413.0" fill="none" stroke="#1a1aa0" stroke-width="1" stroke-linejoin="round" stroke-linecap="round" stroke-linecap="butt"/>
<polyline points="100.9,430.0 130.9,430.0 184.0,449.0" fill="none" stroke="#a52a2a" stroke-width="1" stroke-linejoin="round" stroke-linecap="round" stroke-linecap="butt"/>
<polyline points="57.0,468.8 135.0,468.8 191.5,456.5" fill="none" stroke="#000" stroke-width="1" stroke-linejoin="round" stroke-linecap="round" stroke-linecap="butt"/>
<polyline points="57.0,480.0 143.4,480.5" fill="none" stroke="#555555" stroke-width="1" stroke-linejoin="round" stroke-linecap="round" stroke-linecap="butt"/>
<polyline points="57.0,490.3 128.0,490.3 137.5,499.0" fill="none" stroke="#9a9a9a" stroke-width="1" stroke-linejoin="round" stroke-linecap="round" stroke-linecap="butt"/>
<polyline points="57.0,500.7 128.0,500.7 137.5,505.0" fill="none" stroke="#d0d0d0" stroke-width="1" stroke-linejoin="round" stroke-linecap="round" stroke-linecap="butt"/>
<polyline points="57.0,509.3 135.0,509.3" fill="none" stroke="#87cefa" stroke-width="1" stroke-linejoin="round" stroke-linecap="round" stroke-linecap="butt"/>
<polyline points="57.0,512.0 135.0,512.0" fill="none" stroke="#87cefa" stroke-width="1" stroke-linejoin="round" stroke-linecap="round" stroke-linecap="butt"/>
<polyline points="67.0,527.0 128.0,527.0 172.0,466.0" fill="none" stroke="#ff8c00" stroke-width="1" stroke-linejoin="round" stroke-linecap="round" stroke-linecap="butt"/>
<polyline points="52.0,556.5 135.0,556.5" fill="none" stroke="#87cefa" stroke-width="1" stroke-linejoin="round" stroke-linecap="round" stroke-linecap="butt"/>
<polyline points="52.0,558.8 135.0,558.8" fill="none" stroke="#87cefa" stroke-width="1" stroke-linejoin="round" stroke-linecap="round" stroke-linecap="butt"/>
<polyline points="49.0,571.4 135.0,571.4" fill="none" stroke="#9a9a9a" stroke-width="1" stroke-linejoin="round" stroke-linecap="round" stroke-linecap="butt"/>
<polyline points="40.0,582.3 122.0,582.3" fill="none" stroke="#333333" stroke-width="1" stroke-linejoin="round" stroke-linecap="round" stroke-linecap="butt"/>
<polyline points="130.0,582.3 135.0,582.3" fill="none" stroke="#333333" stroke-width="1" stroke-linejoin="round" stroke-linecap="round" stroke-linecap="butt"/>
<polyline points="74.0,594.0 135.0,594.0" fill="none" stroke="#111111" stroke-width="1" stroke-linejoin="round" stroke-linecap="round" stroke-linecap="butt"/>
<polyline points="30.0,605.3 217.5,605.3 218.3,601.0" fill="none" stroke="#ffb000" stroke-width="1" stroke-linejoin="round" stroke-linecap="round" stroke-linecap="butt"/>
<polyline points="139.0,623.3 149.0,623.3 157.0,611.4" fill="none" stroke="#000" stroke-width="1" stroke-linejoin="round" stroke-linecap="round" stroke-linecap="butt"/>
</svg></body></html>
